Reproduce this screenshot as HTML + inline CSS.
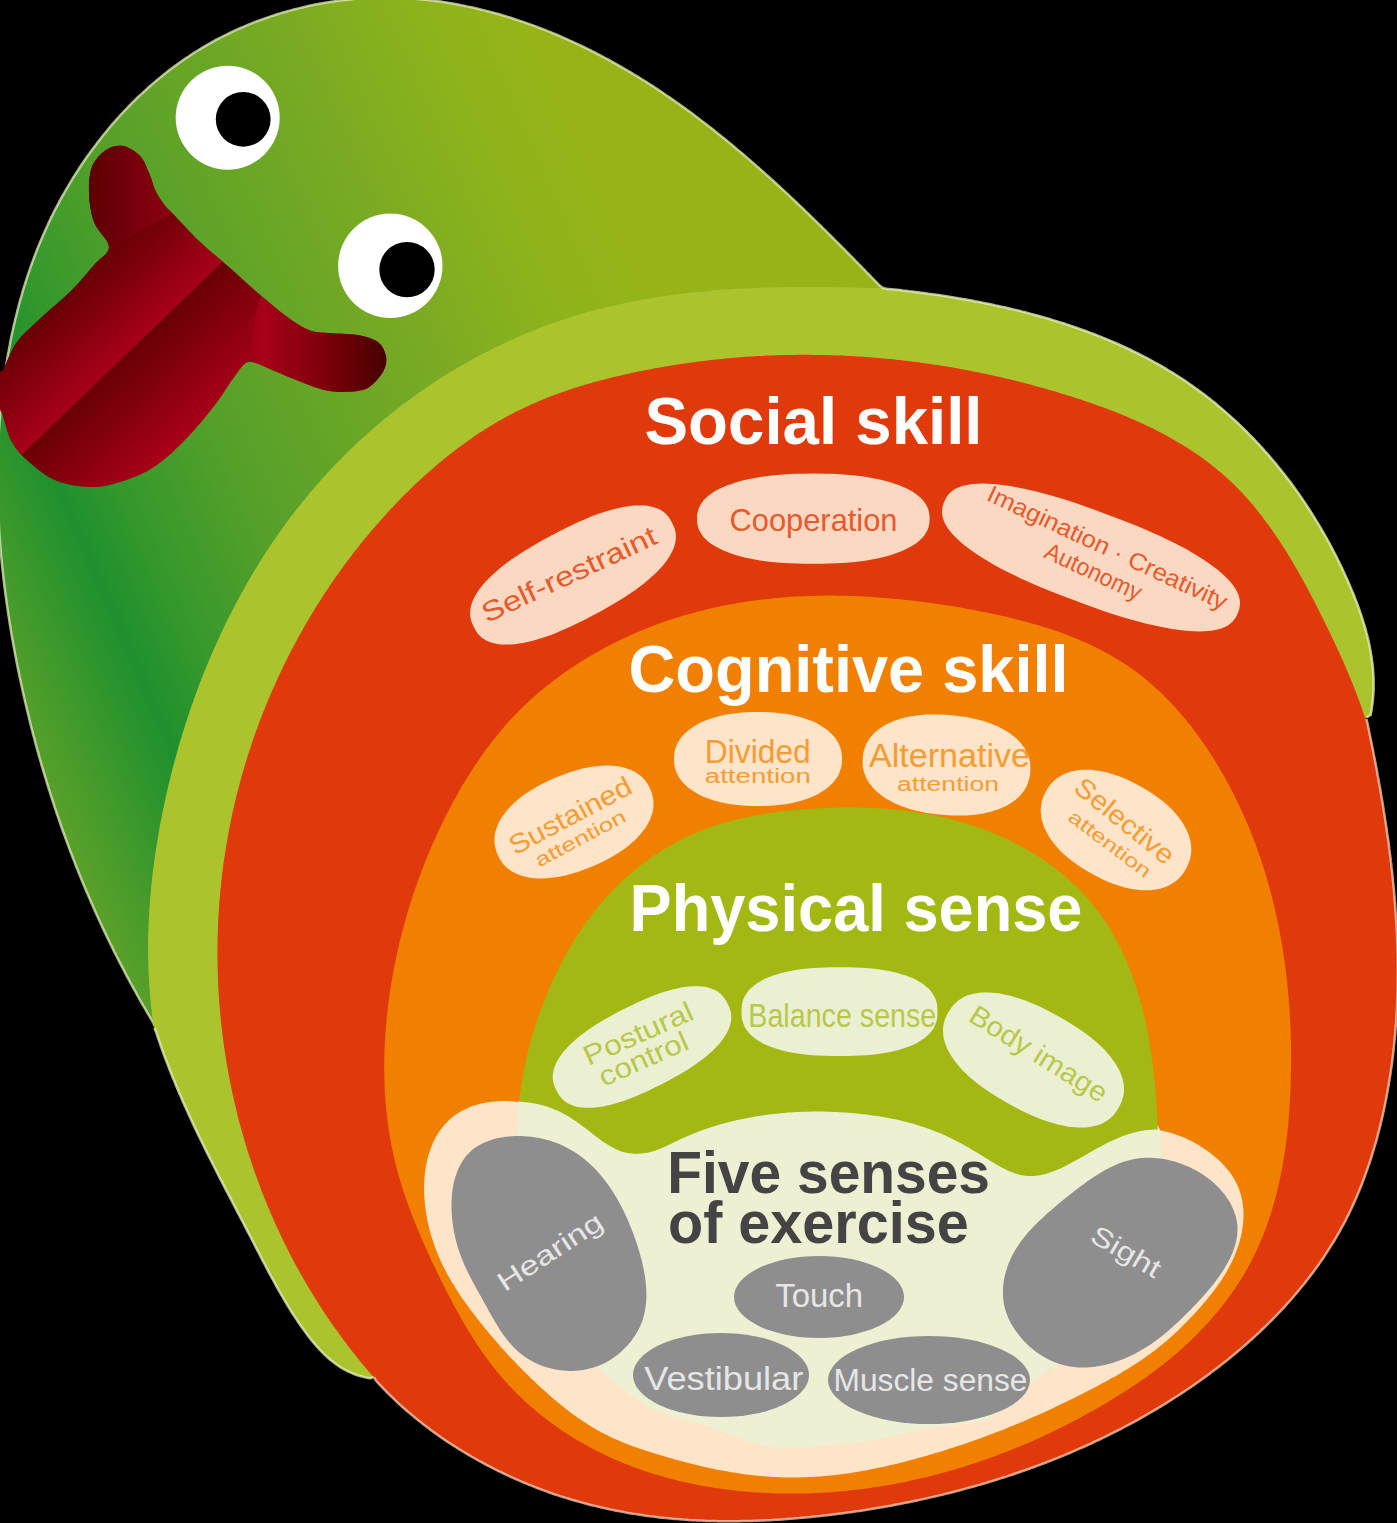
<!DOCTYPE html>
<html><head><meta charset="utf-8"><style>html,body{margin:0;padding:0;background:#000;overflow:hidden;width:1397px;height:1523px}svg{display:block}text{font-family:"Liberation Sans",sans-serif}</style></head>
<body><svg width="1397" height="1523" viewBox="0 0 1397 1523" font-family="Liberation Sans, sans-serif"><defs>
<linearGradient id="gbody" gradientUnits="userSpaceOnUse" x1="-247.6" y1="107.2" x2="431" y2="-186.6">
<stop offset="0" stop-color="#58a02a"/><stop offset="0.0946" stop-color="#3a982c"/><stop offset="0.1757" stop-color="#1f902e"/><stop offset="0.2568" stop-color="#35982c"/><stop offset="0.4054" stop-color="#55a02a"/><stop offset="0.5811" stop-color="#6aa626"/><stop offset="0.7297" stop-color="#7dab22"/><stop offset="0.8784" stop-color="#8db31c"/><stop offset="1" stop-color="#96b418"/>
</linearGradient>
<linearGradient id="gt1" gradientUnits="userSpaceOnUse" x1="-35" y1="392.9" x2="23" y2="453.5">
<stop offset="0" stop-color="#6a0006"/><stop offset="0.95" stop-color="#a50019"/><stop offset="1" stop-color="#a50019"/>
</linearGradient>
<linearGradient id="gt2" gradientUnits="userSpaceOnUse" x1="23" y1="453.5" x2="92" y2="525.7">
<stop offset="0" stop-color="#680004"/><stop offset="1" stop-color="#a80019"/>
</linearGradient>
<linearGradient id="gt3" gradientUnits="userSpaceOnUse" x1="250" y1="0" x2="385" y2="0">
<stop offset="0" stop-color="#9c0015"/><stop offset="0.09" stop-color="#a8001a"/><stop offset="0.52" stop-color="#80000c"/><stop offset="1" stop-color="#480000"/>
</linearGradient>
<linearGradient id="gt4" gradientUnits="userSpaceOnUse" x1="90" y1="0" x2="172" y2="0">
<stop offset="0" stop-color="#5c0004"/><stop offset="1" stop-color="#8e0012"/>
</linearGradient>
<clipPath id="ctongue"><path d="M109.0,247.0 C109.0,239.8 97.3,231.0 94.0,222.0 C90.7,213.0 89.3,202.2 89.0,193.0 C88.7,183.8 89.2,174.2 92.0,167.0 C94.8,159.8 100.8,153.5 106.0,150.0 C111.2,146.5 117.3,145.0 123.0,146.0 C128.7,147.0 135.7,151.5 140.0,156.0 C144.3,160.5 146.3,167.0 149.0,173.0 C151.7,179.0 153.2,186.3 156.0,192.0 C158.8,197.7 163.3,203.5 166.0,207.0 C168.7,210.5 166.3,207.2 172.0,213.0 C177.7,218.8 190.5,233.0 200.0,242.0 C209.5,251.0 219.3,258.5 229.0,267.0 C238.7,275.5 248.5,284.8 258.0,293.0 C267.5,301.2 277.5,309.8 286.0,316.0 C294.5,322.2 301.8,327.2 309.0,330.0 C316.2,332.8 320.8,332.2 329.0,333.0 C337.2,333.8 349.8,333.5 358.0,335.0 C366.2,336.5 373.3,338.5 378.0,342.0 C382.7,345.5 385.0,351.3 386.0,356.0 C387.0,360.7 386.3,365.2 384.0,370.0 C381.7,374.8 376.3,381.5 372.0,385.0 C367.7,388.5 365.2,390.0 358.0,391.0 C350.8,392.0 338.5,392.5 329.0,391.0 C319.5,389.5 310.5,385.5 301.0,382.0 C291.5,378.5 280.7,373.3 272.0,370.0 C263.3,366.7 255.2,361.0 249.0,362.0 C242.8,363.0 240.7,368.8 235.0,376.0 C229.3,383.2 223.2,394.5 215.0,405.0 C206.8,415.5 195.7,429.0 186.0,439.0 C176.3,449.0 166.5,458.3 157.0,465.0 C147.5,471.7 139.3,475.3 129.0,479.0 C118.7,482.7 107.0,486.7 95.0,487.0 C83.0,487.3 68.0,485.2 57.0,481.0 C46.0,476.8 36.5,468.5 29.0,462.0 C21.5,455.5 16.3,449.7 12.0,442.0 C7.7,434.3 5.3,422.7 3.0,416.0 C0.7,409.3 -1.2,409.3 -2.0,402.0 C-2.8,394.7 -2.8,377.3 -2.0,372.0 C-1.2,366.7 -0.2,375.0 3.0,370.0 C6.2,365.0 10.3,351.0 17.0,342.0 C23.7,333.0 33.8,324.7 43.0,316.0 C52.2,307.3 63.5,298.5 72.0,290.0 C80.5,281.5 87.8,272.2 94.0,265.0 C100.2,257.8 109.0,254.2 109.0,247.0Z"/></clipPath>
</defs>
<rect width="1397" height="1523" fill="#000"/>
<path d="M882.0,287.5L879.4,285.3L877.3,283.2L875.3,281.1L873.2,279.0L871.2,276.9L869.1,274.7L867.0,272.6L865.0,270.5L862.9,268.4L860.8,266.2L858.7,264.1L856.6,262.0L854.6,259.9L852.5,257.7L850.4,255.6L848.3,253.5L846.2,251.4L844.1,249.2L842.0,247.1L839.9,245.0L837.8,242.9L835.7,240.8L833.6,238.7L831.4,236.5L829.3,234.4L827.2,232.3L825.1,230.2L822.9,228.1L820.8,226.0L818.6,223.9L816.5,221.8L814.3,219.7L812.2,217.6L810.0,215.5L807.9,213.4L805.7,211.3L803.6,209.2L801.4,207.2L799.2,205.1L797.0,203.0L794.8,200.9L792.7,198.9L790.5,196.8L788.3,194.7L786.1,192.7L783.9,190.6L781.6,188.6L779.4,186.5L777.2,184.5L775.0,182.5L772.8,180.4L770.5,178.4L768.3,176.4L766.0,174.4L763.8,172.4L761.5,170.3L759.3,168.3L757.0,166.4L754.8,164.4L752.5,162.4L750.2,160.4L747.9,158.4L745.6,156.5L743.3,154.5L741.0,152.5L738.7,150.6L736.4,148.7L734.1,146.7L731.8,144.8L729.5,142.9L727.1,141.0L724.8,139.0L722.5,137.1L720.1,135.2L717.8,133.4L715.4,131.5L713.0,129.6L710.7,127.7L708.3,125.9L705.9,124.0L703.5,122.2L701.1,120.4L698.7,118.6L696.3,116.7L693.9,114.9L691.5,113.1L689.1,111.3L686.6,109.6L684.2,107.8L681.7,106.0L679.3,104.3L676.8,102.5L674.4,100.8L671.9,99.1L669.4,97.4L666.9,95.7L664.4,94.0L662.0,92.3L659.4,90.6L656.9,88.9L654.4,87.3L651.9,85.6L649.4,84.0L646.8,82.4L644.3,80.8L641.7,79.2L639.2,77.6L636.6,76.0L634.0,74.5L631.4,72.9L628.8,71.4L626.2,69.8L623.6,68.3L621.0,66.8L618.4,65.3L615.8,63.8L613.1,62.3L610.5,60.9L607.9,59.4L605.2,58.0L602.5,56.6L599.9,55.2L597.2,53.8L594.5,52.4L591.8,51.0L589.1,49.7L586.4,48.3L583.6,47.0L580.9,45.7L578.2,44.4L575.4,43.1L572.7,41.8L569.9,40.6L567.2,39.3L564.4,38.1L561.6,36.9L558.9,35.7L556.1,34.5L553.3,33.3L550.5,32.2L547.7,31.1L544.9,29.9L542.0,28.8L539.2,27.8L536.4,26.7L533.5,25.6L530.7,24.6L527.9,23.6L525.0,22.6L522.1,21.6L519.3,20.6L516.4,19.7L513.5,18.7L510.7,17.8L507.8,16.9L504.9,16.0L502.0,15.2L499.1,14.3L496.2,13.5L493.3,12.7L490.4,11.9L487.5,11.2L484.6,10.4L481.6,9.7L478.7,9.0L475.8,8.3L472.9,7.6L469.9,7.0L467.0,6.4L464.0,5.7L461.1,5.2L458.1,4.6L455.2,4.0L452.2,3.5L449.3,3.0L446.3,2.5L443.4,2.1L440.4,1.6L437.4,1.2L434.5,0.8L431.5,0.5L428.5,0.1L425.5,-0.2L422.5,-0.5L419.6,-0.8L416.6,-1.1L413.6,-1.3L410.6,-1.5L407.6,-1.7L404.6,-1.9L401.7,-2.0L398.7,-2.1L395.7,-2.2L392.7,-2.3L389.7,-2.3L386.7,-2.3L383.7,-2.3L380.7,-2.3L377.7,-2.3L374.7,-2.2L371.7,-2.1L368.7,-1.9L365.7,-1.8L362.7,-1.6L359.7,-1.4L356.7,-1.2L353.7,-0.9L350.8,-0.6L347.8,-0.3L344.8,-0.0L341.8,0.3L338.8,0.7L335.8,1.1L332.9,1.6L329.9,2.0L326.9,2.5L324.0,3.0L321.0,3.5L318.0,4.1L315.1,4.6L312.1,5.2L309.2,5.8L306.3,6.5L303.3,7.2L300.4,7.9L297.5,8.6L294.6,9.3L291.7,10.1L288.8,10.9L285.9,11.7L283.0,12.5L280.1,13.4L277.2,14.3L274.4,15.2L271.5,16.1L268.7,17.1L265.8,18.1L263.0,19.1L260.2,20.1L257.4,21.1L254.5,22.2L251.8,23.3L249.0,24.4L246.2,25.6L243.4,26.8L240.7,28.0L237.9,29.2L235.2,30.4L232.5,31.7L229.8,33.0L227.1,34.3L224.4,35.6L221.7,37.0L219.1,38.3L216.4,39.7L213.8,41.2L211.2,42.6L208.6,44.1L206.0,45.6L203.4,47.1L200.9,48.6L198.3,50.2L195.8,51.8L193.3,53.4L190.7,55.0L188.3,56.7L185.8,58.3L183.3,60.0L180.9,61.7L178.4,63.5L176.0,65.2L173.6,67.0L171.2,68.8L168.8,70.6L166.5,72.4L164.1,74.3L161.8,76.2L159.5,78.1L157.2,80.0L154.9,81.9L152.6,83.9L150.4,85.8L148.1,87.8L145.9,89.8L143.7,91.8L141.5,93.9L139.3,95.9L137.1,98.0L135.0,100.1L132.9,102.2L130.7,104.4L128.6,106.5L126.6,108.7L124.5,110.8L122.4,113.0L120.4,115.2L118.4,117.5L116.4,119.7L114.4,122.0L112.4,124.2L110.4,126.5L108.5,128.8L106.6,131.2L104.7,133.5L102.8,135.8L100.9,138.2L99.1,140.6L97.2,143.0L95.4,145.4L93.6,147.8L91.8,150.2L90.0,152.6L88.3,155.1L86.5,157.6L84.8,160.0L83.1,162.5L81.4,165.0L79.7,167.5L78.1,170.1L76.4,172.6L74.8,175.2L73.2,177.7L71.6,180.3L70.1,182.9L68.5,185.5L67.0,188.1L65.5,190.7L64.0,193.3L62.5,195.9L61.0,198.6L59.6,201.2L58.2,203.9L56.8,206.6L55.4,209.2L54.0,211.9L52.7,214.6L51.3,217.3L50.0,220.1L48.7,222.8L47.5,225.5L46.2,228.2L45.0,231.0L43.8,233.7L42.6,236.5L41.4,239.3L40.2,242.0L39.1,244.8L37.9,247.6L36.8,250.4L35.7,253.2L34.7,256.0L33.6,258.8L32.6,261.6L31.5,264.5L30.5,267.3L29.6,270.1L28.6,273.0L27.6,275.8L26.7,278.7L25.8,281.5L24.9,284.4L24.0,287.2L23.1,290.1L22.3,293.0L21.5,295.9L20.6,298.8L19.8,301.6L19.0,304.5L18.3,307.4L17.5,310.3L16.8,313.3L16.1,316.2L15.3,319.1L14.7,322.0L14.0,324.9L13.3,327.8L12.7,330.8L12.0,333.7L11.4,336.6L10.8,339.6L10.2,342.5L9.7,345.5L9.1,348.4L8.6,351.3L8.0,354.3L7.5,357.2L7.0,360.2L6.5,363.2L6.0,366.1L5.6,369.1L5.1,372.0L4.7,375.0L4.3,378.0L3.9,380.9L3.5,383.9L3.1,386.9L2.7,389.8L2.4,392.8L2.0,395.8L1.7,398.8L1.4,401.7L1.1,404.7L0.8,407.7L0.5,410.7L0.3,413.7L0.0,416.6L-0.2,419.6L-0.5,422.6L-0.7,425.6L-0.9,428.6L-1.1,431.6L-1.2,434.6L-1.4,437.6L-1.6,440.5L-1.7,443.5L-1.8,446.5L-1.9,449.5L-2.0,452.5L-2.1,455.5L-2.2,458.5L-2.3,461.5L-2.3,464.5L-2.4,467.5L-2.4,470.5L-2.4,473.5L-2.5,476.5L-2.5,479.5L-2.4,482.5L-2.4,485.5L-2.4,488.5L-2.3,491.5L-2.3,494.5L-2.2,497.5L-2.1,500.5L-2.1,503.5L-2.0,506.5L-1.8,509.5L-1.7,512.5L-1.6,515.5L-1.4,518.5L-1.3,521.5L-1.1,524.5L-1.0,527.5L-0.8,530.5L-0.6,533.5L-0.4,536.5L-0.2,539.5L0.1,542.5L0.3,545.5L0.6,548.5L0.8,551.5L1.1,554.5L1.3,557.5L1.6,560.5L1.9,563.5L2.2,566.5L2.5,569.5L2.9,572.5L3.2,575.5L3.5,578.5L3.9,581.5L4.2,584.5L4.6,587.5L5.0,590.5L5.4,593.5L5.8,596.5L6.2,599.5L6.6,602.5L7.0,605.4L7.5,608.4L7.9,611.4L8.3,614.4L8.8,617.4L9.3,620.4L9.7,623.3L10.2,626.3L10.7,629.3L11.2,632.3L11.7,635.2L12.2,638.2L12.8,641.2L13.3,644.2L13.8,647.1L14.4,650.1L14.9,653.1L15.5,656.0L16.1,659.0L16.6,662.0L17.2,664.9L17.8,667.9L18.4,670.8L19.0,673.8L19.6,676.7L20.3,679.7L20.9,682.6L21.5,685.6L22.2,688.5L22.8,691.5L23.5,694.4L24.1,697.3L24.8,700.3L25.5,703.2L26.2,706.1L26.9,709.1L27.6,712.0L28.3,714.9L29.0,717.8L29.7,720.8L30.4,723.7L31.2,726.6L31.9,729.5L32.7,732.4L33.4,735.3L34.2,738.2L35.0,741.1L35.7,744.0L36.5,746.9L37.3,749.8L38.1,752.7L38.9,755.6L39.7,758.5L40.6,761.4L41.4,764.3L42.2,767.2L43.1,770.0L43.9,772.9L44.8,775.8L45.7,778.7L46.5,781.5L47.4,784.4L48.3,787.3L49.2,790.1L50.1,793.0L51.0,795.9L51.9,798.7L52.9,801.6L53.8,804.4L54.7,807.3L55.7,810.1L56.6,813.0L57.6,815.8L58.6,818.7L59.6,821.5L60.5,824.3L61.5,827.2L62.5,830.0L63.5,832.8L64.6,835.6L65.6,838.4L66.6,841.3L67.7,844.1L68.7,846.9L69.8,849.7L70.8,852.5L71.9,855.3L73.0,858.1L74.1,860.9L75.1,863.7L76.2,866.5L77.4,869.3L78.5,872.1L79.6,874.9L80.7,877.6L81.9,880.4L83.0,883.2L84.2,886.0L85.3,888.7L86.5,891.5L87.7,894.3L88.9,897.0L90.1,899.8L91.3,902.5L92.5,905.3L93.7,908.0L94.9,910.8L96.1,913.5L97.4,916.3L98.6,919.0L99.9,921.7L101.2,924.5L102.4,927.2L103.7,929.9L105.0,932.6L106.3,935.4L107.6,938.1L108.9,940.8L110.2,943.5L111.6,946.2L112.9,948.9L114.2,951.6L115.6,954.3L116.9,957.0L118.3,959.7L119.7,962.4L121.1,965.1L122.5,967.7L123.9,970.4L125.3,973.1L126.7,975.8L128.1,978.4L129.6,981.1L131.0,983.8L132.5,986.4L133.9,989.1L135.4,991.7L136.9,994.4L138.3,997.0L139.8,999.6L141.3,1002.3L142.8,1004.9L144.3,1007.5L145.9,1010.2L147.4,1012.8L148.9,1015.4L150.5,1018.0L152.1,1020.6L153.6,1023.3L154.3,1026.0L154.3,1026.0L168.0,960.0L185.0,850.0L220.0,700.0L310.0,550.0L470.0,400.0L650.0,335.0L850.0,322.0L882.0,287.5Z" fill="url(#gbody)"/>
<path d="M882.0,287.5L879.4,285.3L877.3,283.2L875.3,281.1L873.2,279.0L871.2,276.9L869.1,274.7L867.0,272.6L865.0,270.5L862.9,268.4L860.8,266.2L858.7,264.1L856.6,262.0L854.6,259.9L852.5,257.7L850.4,255.6L848.3,253.5L846.2,251.4L844.1,249.2L842.0,247.1L839.9,245.0L837.8,242.9L835.7,240.8L833.6,238.7L831.4,236.5L829.3,234.4L827.2,232.3L825.1,230.2L822.9,228.1L820.8,226.0L818.6,223.9L816.5,221.8L814.3,219.7L812.2,217.6L810.0,215.5L807.9,213.4L805.7,211.3L803.6,209.2L801.4,207.2L799.2,205.1L797.0,203.0L794.8,200.9L792.7,198.9L790.5,196.8L788.3,194.7L786.1,192.7L783.9,190.6L781.6,188.6L779.4,186.5L777.2,184.5L775.0,182.5L772.8,180.4L770.5,178.4L768.3,176.4L766.0,174.4L763.8,172.4L761.5,170.3L759.3,168.3L757.0,166.4L754.8,164.4L752.5,162.4L750.2,160.4L747.9,158.4L745.6,156.5L743.3,154.5L741.0,152.5L738.7,150.6L736.4,148.7L734.1,146.7L731.8,144.8L729.5,142.9L727.1,141.0L724.8,139.0L722.5,137.1L720.1,135.2L717.8,133.4L715.4,131.5L713.0,129.6L710.7,127.7L708.3,125.9L705.9,124.0L703.5,122.2L701.1,120.4L698.7,118.6L696.3,116.7L693.9,114.9L691.5,113.1L689.1,111.3L686.6,109.6L684.2,107.8L681.7,106.0L679.3,104.3L676.8,102.5L674.4,100.8L671.9,99.1L669.4,97.4L666.9,95.7L664.4,94.0L662.0,92.3L659.4,90.6L656.9,88.9L654.4,87.3L651.9,85.6L649.4,84.0L646.8,82.4L644.3,80.8L641.7,79.2L639.2,77.6L636.6,76.0L634.0,74.5L631.4,72.9L628.8,71.4L626.2,69.8L623.6,68.3L621.0,66.8L618.4,65.3L615.8,63.8L613.1,62.3L610.5,60.9L607.9,59.4L605.2,58.0L602.5,56.6L599.9,55.2L597.2,53.8L594.5,52.4L591.8,51.0L589.1,49.7L586.4,48.3L583.6,47.0L580.9,45.7L578.2,44.4L575.4,43.1L572.7,41.8L569.9,40.6L567.2,39.3L564.4,38.1L561.6,36.9L558.9,35.7L556.1,34.5L553.3,33.3L550.5,32.2L547.7,31.1L544.9,29.9L542.0,28.8L539.2,27.8L536.4,26.7L533.5,25.6L530.7,24.6L527.9,23.6L525.0,22.6L522.1,21.6L519.3,20.6L516.4,19.7L513.5,18.7L510.7,17.8L507.8,16.9L504.9,16.0L502.0,15.2L499.1,14.3L496.2,13.5L493.3,12.7L490.4,11.9L487.5,11.2L484.6,10.4L481.6,9.7L478.7,9.0L475.8,8.3L472.9,7.6L469.9,7.0L467.0,6.4L464.0,5.7L461.1,5.2L458.1,4.6L455.2,4.0L452.2,3.5L449.3,3.0L446.3,2.5L443.4,2.1L440.4,1.6L437.4,1.2L434.5,0.8L431.5,0.5L428.5,0.1L425.5,-0.2L422.5,-0.5L419.6,-0.8L416.6,-1.1L413.6,-1.3L410.6,-1.5L407.6,-1.7L404.6,-1.9L401.7,-2.0L398.7,-2.1L395.7,-2.2L392.7,-2.3L389.7,-2.3L386.7,-2.3L383.7,-2.3L380.7,-2.3L377.7,-2.3L374.7,-2.2L371.7,-2.1L368.7,-1.9L365.7,-1.8L362.7,-1.6L359.7,-1.4L356.7,-1.2L353.7,-0.9L350.8,-0.6L347.8,-0.3L344.8,-0.0L341.8,0.3L338.8,0.7L335.8,1.1L332.9,1.6L329.9,2.0L326.9,2.5L324.0,3.0L321.0,3.5L318.0,4.1L315.1,4.6L312.1,5.2L309.2,5.8L306.3,6.5L303.3,7.2L300.4,7.9L297.5,8.6L294.6,9.3L291.7,10.1L288.8,10.9L285.9,11.7L283.0,12.5L280.1,13.4L277.2,14.3L274.4,15.2L271.5,16.1L268.7,17.1L265.8,18.1L263.0,19.1L260.2,20.1L257.4,21.1L254.5,22.2L251.8,23.3L249.0,24.4L246.2,25.6L243.4,26.8L240.7,28.0L237.9,29.2L235.2,30.4L232.5,31.7L229.8,33.0L227.1,34.3L224.4,35.6L221.7,37.0L219.1,38.3L216.4,39.7L213.8,41.2L211.2,42.6L208.6,44.1L206.0,45.6L203.4,47.1L200.9,48.6L198.3,50.2L195.8,51.8L193.3,53.4L190.7,55.0L188.3,56.7L185.8,58.3L183.3,60.0L180.9,61.7L178.4,63.5L176.0,65.2L173.6,67.0L171.2,68.8L168.8,70.6L166.5,72.4L164.1,74.3L161.8,76.2L159.5,78.1L157.2,80.0L154.9,81.9L152.6,83.9L150.4,85.8L148.1,87.8L145.9,89.8L143.7,91.8L141.5,93.9L139.3,95.9L137.1,98.0L135.0,100.1L132.9,102.2L130.7,104.4L128.6,106.5L126.6,108.7L124.5,110.8L122.4,113.0L120.4,115.2L118.4,117.5L116.4,119.7L114.4,122.0L112.4,124.2L110.4,126.5L108.5,128.8L106.6,131.2L104.7,133.5L102.8,135.8L100.9,138.2L99.1,140.6L97.2,143.0L95.4,145.4L93.6,147.8L91.8,150.2L90.0,152.6L88.3,155.1L86.5,157.6L84.8,160.0L83.1,162.5L81.4,165.0L79.7,167.5L78.1,170.1L76.4,172.6L74.8,175.2L73.2,177.7L71.6,180.3L70.1,182.9L68.5,185.5L67.0,188.1L65.5,190.7L64.0,193.3L62.5,195.9L61.0,198.6L59.6,201.2L58.2,203.9L56.8,206.6L55.4,209.2L54.0,211.9L52.7,214.6L51.3,217.3L50.0,220.1L48.7,222.8L47.5,225.5L46.2,228.2L45.0,231.0L43.8,233.7L42.6,236.5L41.4,239.3L40.2,242.0L39.1,244.8L37.9,247.6L36.8,250.4L35.7,253.2L34.7,256.0L33.6,258.8L32.6,261.6L31.5,264.5L30.5,267.3L29.6,270.1L28.6,273.0L27.6,275.8L26.7,278.7L25.8,281.5L24.9,284.4L24.0,287.2L23.1,290.1L22.3,293.0L21.5,295.9L20.6,298.8L19.8,301.6L19.0,304.5L18.3,307.4L17.5,310.3L16.8,313.3L16.1,316.2L15.3,319.1L14.7,322.0L14.0,324.9L13.3,327.8L12.7,330.8L12.0,333.7L11.4,336.6L10.8,339.6L10.2,342.5L9.7,345.5L9.1,348.4L8.6,351.3L8.0,354.3L7.5,357.2L7.0,360.2L6.5,363.2L6.0,366.1L5.6,369.1L5.1,372.0L4.7,375.0L4.3,378.0L3.9,380.9L3.5,383.9L3.1,386.9L2.7,389.8L2.4,392.8L2.0,395.8L1.7,398.8L1.4,401.7L1.1,404.7L0.8,407.7L0.5,410.7L0.3,413.7L0.0,416.6L-0.2,419.6L-0.5,422.6L-0.7,425.6L-0.9,428.6L-1.1,431.6L-1.2,434.6L-1.4,437.6L-1.6,440.5L-1.7,443.5L-1.8,446.5L-1.9,449.5L-2.0,452.5L-2.1,455.5L-2.2,458.5L-2.3,461.5L-2.3,464.5L-2.4,467.5L-2.4,470.5L-2.4,473.5L-2.5,476.5L-2.5,479.5L-2.4,482.5L-2.4,485.5L-2.4,488.5L-2.3,491.5L-2.3,494.5L-2.2,497.5L-2.1,500.5L-2.1,503.5L-2.0,506.5L-1.8,509.5L-1.7,512.5L-1.6,515.5L-1.4,518.5L-1.3,521.5L-1.1,524.5L-1.0,527.5L-0.8,530.5L-0.6,533.5L-0.4,536.5L-0.2,539.5L0.1,542.5L0.3,545.5L0.6,548.5L0.8,551.5L1.1,554.5L1.3,557.5L1.6,560.5L1.9,563.5L2.2,566.5L2.5,569.5L2.9,572.5L3.2,575.5L3.5,578.5L3.9,581.5L4.2,584.5L4.6,587.5L5.0,590.5L5.4,593.5L5.8,596.5L6.2,599.5L6.6,602.5L7.0,605.4L7.5,608.4L7.9,611.4L8.3,614.4L8.8,617.4L9.3,620.4L9.7,623.3L10.2,626.3L10.7,629.3L11.2,632.3L11.7,635.2L12.2,638.2L12.8,641.2L13.3,644.2L13.8,647.1L14.4,650.1L14.9,653.1L15.5,656.0L16.1,659.0L16.6,662.0L17.2,664.9L17.8,667.9L18.4,670.8L19.0,673.8L19.6,676.7L20.3,679.7L20.9,682.6L21.5,685.6L22.2,688.5L22.8,691.5L23.5,694.4L24.1,697.3L24.8,700.3L25.5,703.2L26.2,706.1L26.9,709.1L27.6,712.0L28.3,714.9L29.0,717.8L29.7,720.8L30.4,723.7L31.2,726.6L31.9,729.5L32.7,732.4L33.4,735.3L34.2,738.2L35.0,741.1L35.7,744.0L36.5,746.9L37.3,749.8L38.1,752.7L38.9,755.6L39.7,758.5L40.6,761.4L41.4,764.3L42.2,767.2L43.1,770.0L43.9,772.9L44.8,775.8L45.7,778.7L46.5,781.5L47.4,784.4L48.3,787.3L49.2,790.1L50.1,793.0L51.0,795.9L51.9,798.7L52.9,801.6L53.8,804.4L54.7,807.3L55.7,810.1L56.6,813.0L57.6,815.8L58.6,818.7L59.6,821.5L60.5,824.3L61.5,827.2L62.5,830.0L63.5,832.8L64.6,835.6L65.6,838.4L66.6,841.3L67.7,844.1L68.7,846.9L69.8,849.7L70.8,852.5L71.9,855.3L73.0,858.1L74.1,860.9L75.1,863.7L76.2,866.5L77.4,869.3L78.5,872.1L79.6,874.9L80.7,877.6L81.9,880.4L83.0,883.2L84.2,886.0L85.3,888.7L86.5,891.5L87.7,894.3L88.9,897.0L90.1,899.8L91.3,902.5L92.5,905.3L93.7,908.0L94.9,910.8L96.1,913.5L97.4,916.3L98.6,919.0L99.9,921.7L101.2,924.5L102.4,927.2L103.7,929.9L105.0,932.6L106.3,935.4L107.6,938.1L108.9,940.8L110.2,943.5L111.6,946.2L112.9,948.9L114.2,951.6L115.6,954.3L116.9,957.0L118.3,959.7L119.7,962.4L121.1,965.1L122.5,967.7L123.9,970.4L125.3,973.1L126.7,975.8L128.1,978.4L129.6,981.1L131.0,983.8L132.5,986.4L133.9,989.1L135.4,991.7L136.9,994.4L138.3,997.0L139.8,999.6L141.3,1002.3L142.8,1004.9L144.3,1007.5L145.9,1010.2L147.4,1012.8L148.9,1015.4L150.5,1018.0L152.1,1020.6L153.6,1023.3L154.3,1026.0" fill="none" stroke="#e4edbc" stroke-width="2.5" stroke-opacity="0.75" stroke-linejoin="round"/>
<g clip-path="url(#ctongue)">
<rect x="-10" y="100" width="420" height="420" fill="url(#gt2)"/>
<polygon points="23,453.5 -200,667 -400,200 300,-100 420,-150 260,226" fill="url(#gt1)"/>
<path d="M262.0,297.0 C267.3,294.7 278.2,310.5 286.0,316.0 C293.8,321.5 301.8,327.2 309.0,330.0 C316.2,332.8 320.8,332.2 329.0,333.0 C337.2,333.8 349.8,333.5 358.0,335.0 C366.2,336.5 373.3,338.5 378.0,342.0 C382.7,345.5 385.0,351.3 386.0,356.0 C387.0,360.7 386.3,365.2 384.0,370.0 C381.7,374.8 376.3,381.5 372.0,385.0 C367.7,388.5 365.2,390.0 358.0,391.0 C350.8,392.0 338.5,392.5 329.0,391.0 C319.5,389.5 310.5,385.5 301.0,382.0 C291.5,378.5 280.2,373.7 272.0,370.0 C263.8,366.3 255.0,366.7 252.0,360.0 C249.0,353.3 252.3,340.5 254.0,330.0 C255.7,319.5 256.7,299.3 262.0,297.0Z" fill="url(#gt3)"/>
<path d="M109.0,247.0 C101.3,245.5 97.3,231.0 94.0,222.0 C90.7,213.0 89.3,202.2 89.0,193.0 C88.7,183.8 89.2,174.2 92.0,167.0 C94.8,159.8 100.8,153.5 106.0,150.0 C111.2,146.5 117.3,145.0 123.0,146.0 C128.7,147.0 135.7,151.5 140.0,156.0 C144.3,160.5 146.3,167.0 149.0,173.0 C151.7,179.0 153.2,186.3 156.0,192.0 C158.8,197.7 163.3,203.5 166.0,207.0 C168.7,210.5 176.3,209.0 172.0,213.0 C167.7,217.0 150.5,225.3 140.0,231.0 C129.5,236.7 116.7,248.5 109.0,247.0Z" fill="url(#gt4)"/>
</g>
<circle cx="227.7" cy="117.7" r="52" fill="#fff"/><circle cx="243.2" cy="119.3" r="27.4" fill="#000"/>
<circle cx="390.3" cy="265.8" r="52.2" fill="#fff"/><circle cx="407" cy="269.6" r="27.7" fill="#000"/>
<path d="M882.0,287.5L885.2,288.6L888.1,288.9L891.1,289.2L894.0,289.5L897.0,289.8L900.0,290.1L902.9,290.5L905.9,290.8L908.9,291.2L911.8,291.5L914.8,291.9L917.8,292.3L920.8,292.7L923.8,293.1L926.7,293.5L929.7,293.9L932.7,294.3L935.7,294.7L938.7,295.1L941.7,295.6L944.7,296.0L947.7,296.5L950.6,297.0L953.6,297.5L956.6,298.0L959.6,298.5L962.6,299.0L965.6,299.5L968.6,300.1L971.6,300.6L974.6,301.2L977.6,301.7L980.6,302.3L983.6,302.9L986.5,303.5L989.5,304.1L992.5,304.7L995.5,305.4L998.5,306.0L1001.4,306.7L1004.4,307.3L1007.4,308.0L1010.4,308.7L1013.3,309.4L1016.3,310.1L1019.3,310.8L1022.2,311.6L1025.2,312.3L1028.1,313.1L1031.1,313.9L1034.0,314.7L1037.0,315.5L1039.9,316.3L1042.8,317.1L1045.8,318.0L1048.7,318.8L1051.6,319.7L1054.5,320.6L1057.4,321.5L1060.3,322.4L1063.2,323.3L1066.1,324.3L1069.0,325.2L1071.9,326.2L1074.8,327.2L1077.7,328.2L1080.5,329.2L1083.4,330.2L1086.2,331.2L1089.1,332.3L1091.9,333.4L1094.7,334.5L1097.6,335.6L1100.4,336.7L1103.2,337.8L1106.0,339.0L1108.8,340.1L1111.6,341.3L1114.3,342.5L1117.1,343.7L1119.9,345.0L1122.6,346.2L1125.4,347.5L1128.1,348.7L1130.8,350.0L1133.5,351.3L1136.2,352.7L1138.9,354.0L1141.6,355.4L1144.3,356.8L1147.0,358.2L1149.6,359.6L1152.3,361.0L1154.9,362.5L1157.5,363.9L1160.2,365.4L1162.8,366.9L1165.4,368.4L1167.9,370.0L1170.5,371.5L1173.1,373.1L1175.6,374.7L1178.1,376.3L1180.7,378.0L1183.2,379.6L1185.7,381.3L1188.2,383.0L1190.6,384.7L1193.1,386.4L1195.5,388.2L1198.0,389.9L1200.4,391.7L1202.8,393.5L1205.2,395.3L1207.6,397.2L1210.0,399.0L1212.3,400.9L1214.7,402.8L1217.0,404.7L1219.3,406.7L1221.6,408.6L1223.9,410.6L1226.2,412.6L1228.5,414.6L1230.7,416.6L1232.9,418.6L1235.2,420.7L1237.4,422.7L1239.6,424.8L1241.8,426.9L1243.9,429.0L1246.1,431.1L1248.2,433.3L1250.3,435.5L1252.5,437.6L1254.6,439.8L1256.6,442.0L1258.7,444.2L1260.8,446.5L1262.8,448.7L1264.8,451.0L1266.9,453.3L1268.9,455.6L1270.8,457.9L1272.8,460.2L1274.8,462.5L1276.7,464.9L1278.6,467.2L1280.5,469.6L1282.4,472.0L1284.3,474.4L1286.2,476.8L1288.1,479.2L1289.9,481.6L1291.7,484.1L1293.5,486.6L1295.3,489.0L1297.1,491.5L1298.9,494.0L1300.6,496.5L1302.3,499.0L1304.1,501.6L1305.8,504.1L1307.4,506.6L1309.1,509.2L1310.8,511.8L1312.4,514.4L1314.0,516.9L1315.6,519.6L1317.2,522.2L1318.8,524.8L1320.4,527.4L1321.9,530.1L1323.4,532.7L1325.0,535.4L1326.5,538.0L1327.9,540.7L1329.4,543.4L1330.9,546.1L1332.3,548.8L1333.7,551.5L1335.1,554.2L1336.5,556.9L1337.9,559.7L1339.2,562.4L1340.5,565.2L1341.9,567.9L1343.2,570.7L1344.4,573.4L1345.7,576.2L1347.0,579.0L1348.2,581.8L1349.4,584.6L1350.6,587.4L1351.8,590.2L1353.0,593.0L1354.1,595.8L1355.2,598.7L1356.3,601.5L1357.4,604.3L1358.4,607.2L1359.4,610.0L1360.4,612.9L1361.4,615.7L1362.3,618.6L1363.2,621.4L1364.1,624.3L1365.0,627.2L1365.8,630.1L1366.5,633.0L1367.3,635.9L1368.0,638.7L1368.7,641.6L1369.3,644.5L1369.9,647.4L1370.4,650.4L1370.9,653.3L1371.4,656.2L1371.8,659.1L1372.2,662.0L1372.6,665.0L1372.9,667.9L1373.1,670.8L1373.3,673.7L1373.5,676.7L1373.6,679.6L1373.6,682.6L1373.6,685.5L1373.6,688.4L1373.5,691.4L1373.3,694.3L1373.1,697.3L1372.8,700.2L1372.5,703.2L1372.1,706.2L1371.7,709.1L1371.2,712.1L1370.6,715.0L1366.4,717.5L1366.4,717.5L1340.0,760.0L1300.0,1000.0L1100.0,1300.0L700.0,1450.0L400.0,1392.0L374.0,1377.0L374.0,1377.0L370.3,1378.3L367.2,1377.8L364.1,1377.1L361.1,1376.3L358.2,1375.5L355.3,1374.5L352.5,1373.4L349.8,1372.2L347.2,1371.0L344.6,1369.6L342.0,1368.2L339.6,1366.6L337.2,1365.0L334.8,1363.3L332.5,1361.5L330.2,1359.7L328.0,1357.8L325.9,1355.8L323.8,1353.8L321.7,1351.7L319.7,1349.6L317.7,1347.4L315.7,1345.2L313.8,1342.9L311.9,1340.6L310.0,1338.3L308.2,1335.9L306.4,1333.5L304.6,1331.1L302.8,1328.6L301.1,1326.2L299.4,1323.7L297.6,1321.2L296.0,1318.6L294.3,1316.1L292.6,1313.5L291.0,1311.0L289.4,1308.4L287.8,1305.8L286.2,1303.1L284.6,1300.5L283.1,1297.8L281.5,1295.2L280.0,1292.5L278.5,1289.8L276.9,1287.1L275.5,1284.4L274.0,1281.7L272.5,1279.0L271.0,1276.3L269.5,1273.5L268.1,1270.8L266.6,1268.1L265.2,1265.3L263.8,1262.6L262.3,1259.8L260.9,1257.1L259.5,1254.3L258.1,1251.6L256.6,1248.8L255.2,1246.1L253.8,1243.3L252.4,1240.6L251.0,1237.8L249.6,1235.1L248.1,1232.4L246.7,1229.6L245.3,1226.9L243.9,1224.2L242.5,1221.5L241.1,1218.8L239.7,1216.1L238.2,1213.4L236.8,1210.6L235.4,1207.9L234.0,1205.2L232.6,1202.5L231.2,1199.8L229.8,1197.2L228.4,1194.5L227.0,1191.8L225.6,1189.1L224.2,1186.4L222.8,1183.7L221.4,1181.0L220.0,1178.3L218.6,1175.6L217.3,1172.9L215.9,1170.2L214.5,1167.5L213.2,1164.8L211.8,1162.2L210.4,1159.5L209.1,1156.8L207.7,1154.1L206.4,1151.4L205.0,1148.7L203.7,1146.0L202.4,1143.2L201.1,1140.5L199.7,1137.8L198.4,1135.1L197.1,1132.4L195.8,1129.7L194.5,1126.9L193.2,1124.2L192.0,1121.5L190.7,1118.7L189.4,1116.0L188.2,1113.2L186.9,1110.5L185.7,1107.7L184.4,1105.0L183.2,1102.2L182.0,1099.4L180.8,1096.6L179.6,1093.9L178.4,1091.1L177.2,1088.3L176.0,1085.5L174.9,1082.6L173.7,1079.8L172.5,1077.0L171.4,1074.2L170.3,1071.3L169.2,1068.5L168.1,1065.6L167.0,1062.7L165.9,1059.9L164.8,1057.0L163.7,1054.1L162.7,1051.2L161.6,1048.3L160.6,1045.3L159.6,1042.4L158.6,1039.5L157.6,1036.5L156.6,1033.6L155.6,1030.6L154.3,1028.1L154.3,1028.1L153.4,1024.9L153.0,1021.9L152.6,1018.9L152.2,1015.9L151.8,1012.9L151.5,1009.9L151.2,1006.9L150.8,1003.9L150.6,1000.9L150.3,998.0L150.0,995.0L149.8,992.0L149.6,989.0L149.3,986.0L149.1,983.0L149.0,980.0L148.8,977.0L148.7,974.0L148.5,971.1L148.4,968.1L148.3,965.1L148.3,962.1L148.2,959.1L148.1,956.1L148.1,953.1L148.1,950.2L148.1,947.2L148.1,944.2L148.1,941.2L148.2,938.2L148.2,935.2L148.3,932.2L148.4,929.3L148.5,926.3L148.6,923.3L148.8,920.3L148.9,917.3L149.1,914.3L149.2,911.4L149.4,908.4L149.6,905.4L149.9,902.4L150.1,899.4L150.3,896.5L150.6,893.5L150.9,890.5L151.1,887.5L151.4,884.5L151.8,881.6L152.1,878.6L152.4,875.6L152.8,872.6L153.1,869.7L153.5,866.7L153.9,863.7L154.3,860.7L154.7,857.8L155.1,854.8L155.6,851.8L156.0,848.9L156.5,845.9L157.0,842.9L157.5,840.0L158.0,837.0L158.5,834.0L159.0,831.1L159.5,828.1L160.1,825.1L160.6,822.2L161.2,819.2L161.8,816.2L162.4,813.3L163.0,810.3L163.6,807.4L164.2,804.4L164.8,801.5L165.5,798.5L166.1,795.5L166.8,792.6L167.5,789.6L168.1,786.7L168.8,783.7L169.6,780.8L170.3,777.9L171.0,774.9L171.7,772.0L172.5,769.0L173.3,766.1L174.0,763.2L174.8,760.2L175.6,757.3L176.4,754.4L177.2,751.5L178.1,748.5L178.9,745.6L179.8,742.7L180.6,739.8L181.5,736.9L182.4,734.0L183.3,731.1L184.2,728.2L185.1,725.3L186.0,722.4L187.0,719.5L187.9,716.6L188.9,713.7L189.9,710.8L190.8,708.0L191.8,705.1L192.9,702.2L193.9,699.3L194.9,696.5L195.9,693.6L197.0,690.8L198.1,687.9L199.1,685.1L200.2,682.2L201.3,679.4L202.4,676.6L203.5,673.8L204.7,670.9L205.8,668.1L207.0,665.3L208.1,662.5L209.3,659.7L210.5,656.9L211.7,654.1L212.9,651.3L214.1,648.5L215.4,645.8L216.6,643.0L217.9,640.2L219.1,637.5L220.4,634.7L221.7,632.0L223.0,629.2L224.3,626.5L225.6,623.8L227.0,621.0L228.3,618.3L229.7,615.6L231.0,612.9L232.4,610.2L233.8,607.5L235.2,604.8L236.6,602.2L238.1,599.5L239.5,596.8L240.9,594.2L242.4,591.5L243.9,588.9L245.4,586.3L246.9,583.6L248.4,581.0L249.9,578.4L251.4,575.8L253.0,573.2L254.5,570.6L256.1,568.0L257.7,565.4L259.2,562.9L260.8,560.3L262.5,557.8L264.1,555.2L265.7,552.7L267.4,550.2L269.0,547.7L270.7,545.1L272.4,542.6L274.1,540.2L275.8,537.7L277.5,535.2L279.2,532.7L281.0,530.3L282.7,527.8L284.5,525.4L286.3,523.0L288.0,520.5L289.8,518.1L291.7,515.7L293.5,513.3L295.3,511.0L297.2,508.6L299.0,506.2L300.9,503.9L302.8,501.5L304.7,499.2L306.6,496.9L308.5,494.6L310.4,492.3L312.4,490.0L314.3,487.7L316.3,485.4L318.3,483.2L320.2,480.9L322.2,478.7L324.3,476.5L326.3,474.2L328.3,472.0L330.4,469.8L332.4,467.6L334.5,465.5L336.6,463.3L338.7,461.2L340.8,459.0L342.9,456.9L345.0,454.8L347.1,452.7L349.3,450.6L351.4,448.5L353.6,446.4L355.8,444.3L358.0,442.3L360.2,440.2L362.4,438.2L364.6,436.2L366.8,434.2L369.1,432.2L371.3,430.2L373.6,428.2L375.8,426.3L378.1,424.3L380.4,422.4L382.7,420.5L385.0,418.6L387.3,416.7L389.7,414.8L392.0,412.9L394.3,411.1L396.7,409.2L399.1,407.4L401.4,405.6L403.8,403.7L406.2,401.9L408.6,400.2L411.0,398.4L413.5,396.6L415.9,394.9L418.3,393.1L420.8,391.4L423.3,389.7L425.7,388.0L428.2,386.3L430.7,384.7L433.2,383.0L435.7,381.4L438.2,379.7L440.7,378.1L443.2,376.5L445.8,374.9L448.3,373.3L450.9,371.8L453.4,370.2L456.0,368.7L458.6,367.2L461.2,365.7L463.8,364.2L466.4,362.7L469.0,361.2L471.6,359.8L474.2,358.3L476.9,356.9L479.5,355.5L482.2,354.1L484.8,352.7L487.5,351.4L490.2,350.0L492.8,348.7L495.5,347.3L498.2,346.0L500.9,344.7L503.6,343.4L506.3,342.2L509.1,340.9L511.8,339.7L514.5,338.5L517.3,337.3L520.0,336.1L522.8,334.9L525.5,333.7L528.3,332.6L531.1,331.4L533.9,330.3L536.7,329.2L539.5,328.1L542.3,327.1L545.1,326.0L547.9,325.0L550.7,324.0L553.5,322.9L556.4,321.9L559.2,321.0L562.1,320.0L564.9,319.1L567.8,318.1L570.6,317.2L573.5,316.3L576.4,315.4L579.3,314.6L582.1,313.7L585.0,312.9L587.9,312.1L590.8,311.3L593.7,310.5L596.7,309.7L599.6,308.9L602.5,308.2L605.4,307.5L608.4,306.8L611.3,306.1L614.2,305.4L617.2,304.7L620.1,304.1L623.1,303.5L626.1,302.8L629.0,302.2L632.0,301.6L635.0,301.1L637.9,300.5L640.9,300.0L643.9,299.4L646.9,298.9L649.9,298.4L652.9,297.9L655.9,297.4L658.8,296.9L661.8,296.5L664.9,296.0L667.9,295.6L670.9,295.2L673.9,294.8L676.9,294.4L679.9,294.0L682.9,293.6L685.9,293.3L689.0,292.9L692.0,292.6L695.0,292.3L698.0,292.0L701.1,291.7L704.1,291.4L707.1,291.1L710.2,290.8L713.2,290.6L716.2,290.3L719.3,290.1L722.3,289.8L725.3,289.6L728.4,289.4L731.4,289.2L734.5,289.0L737.5,288.8L740.5,288.7L743.6,288.5L746.6,288.4L749.7,288.2L752.7,288.1L755.7,288.0L758.8,287.8L761.8,287.7L764.8,287.6L767.9,287.5L770.9,287.4L773.9,287.4L777.0,287.3L780.0,287.2L783.0,287.2L786.1,287.1L789.1,287.1L792.1,287.0L795.1,287.0L798.2,287.0L801.2,287.0L804.2,287.0L807.2,287.0L810.2,287.0L813.2,287.0L816.3,287.0L819.3,287.0L822.3,287.0L825.3,287.0L828.3,287.1L831.3,287.1L834.3,287.2L837.2,287.2L840.2,287.3L843.2,287.3L846.2,287.4L849.2,287.5L852.1,287.5L855.1,287.6L858.1,287.7L861.0,287.8L864.0,287.9L866.9,287.9L869.9,288.0L872.8,288.1L875.8,288.2L878.7,288.3L882.0,287.5Z" fill="#abc42e"/>
<path d="M882.0,287.5L885.2,288.6L888.1,288.9L891.1,289.2L894.0,289.5L897.0,289.8L900.0,290.1L902.9,290.5L905.9,290.8L908.9,291.2L911.8,291.5L914.8,291.9L917.8,292.3L920.8,292.7L923.8,293.1L926.7,293.5L929.7,293.9L932.7,294.3L935.7,294.7L938.7,295.1L941.7,295.6L944.7,296.0L947.7,296.5L950.6,297.0L953.6,297.5L956.6,298.0L959.6,298.5L962.6,299.0L965.6,299.5L968.6,300.1L971.6,300.6L974.6,301.2L977.6,301.7L980.6,302.3L983.6,302.9L986.5,303.5L989.5,304.1L992.5,304.7L995.5,305.4L998.5,306.0L1001.4,306.7L1004.4,307.3L1007.4,308.0L1010.4,308.7L1013.3,309.4L1016.3,310.1L1019.3,310.8L1022.2,311.6L1025.2,312.3L1028.1,313.1L1031.1,313.9L1034.0,314.7L1037.0,315.5L1039.9,316.3L1042.8,317.1L1045.8,318.0L1048.7,318.8L1051.6,319.7L1054.5,320.6L1057.4,321.5L1060.3,322.4L1063.2,323.3L1066.1,324.3L1069.0,325.2L1071.9,326.2L1074.8,327.2L1077.7,328.2L1080.5,329.2L1083.4,330.2L1086.2,331.2L1089.1,332.3L1091.9,333.4L1094.7,334.5L1097.6,335.6L1100.4,336.7L1103.2,337.8L1106.0,339.0L1108.8,340.1L1111.6,341.3L1114.3,342.5L1117.1,343.7L1119.9,345.0L1122.6,346.2L1125.4,347.5L1128.1,348.7L1130.8,350.0L1133.5,351.3L1136.2,352.7L1138.9,354.0L1141.6,355.4L1144.3,356.8L1147.0,358.2L1149.6,359.6L1152.3,361.0L1154.9,362.5L1157.5,363.9L1160.2,365.4L1162.8,366.9L1165.4,368.4L1167.9,370.0L1170.5,371.5L1173.1,373.1L1175.6,374.7L1178.1,376.3L1180.7,378.0L1183.2,379.6L1185.7,381.3L1188.2,383.0L1190.6,384.7L1193.1,386.4L1195.5,388.2L1198.0,389.9L1200.4,391.7L1202.8,393.5L1205.2,395.3L1207.6,397.2L1210.0,399.0L1212.3,400.9L1214.7,402.8L1217.0,404.7L1219.3,406.7L1221.6,408.6L1223.9,410.6L1226.2,412.6L1228.5,414.6L1230.7,416.6L1232.9,418.6L1235.2,420.7L1237.4,422.7L1239.6,424.8L1241.8,426.9L1243.9,429.0L1246.1,431.1L1248.2,433.3L1250.3,435.5L1252.5,437.6L1254.6,439.8L1256.6,442.0L1258.7,444.2L1260.8,446.5L1262.8,448.7L1264.8,451.0L1266.9,453.3L1268.9,455.6L1270.8,457.9L1272.8,460.2L1274.8,462.5L1276.7,464.9L1278.6,467.2L1280.5,469.6L1282.4,472.0L1284.3,474.4L1286.2,476.8L1288.1,479.2L1289.9,481.6L1291.7,484.1L1293.5,486.6L1295.3,489.0L1297.1,491.5L1298.9,494.0L1300.6,496.5L1302.3,499.0L1304.1,501.6L1305.8,504.1L1307.4,506.6L1309.1,509.2L1310.8,511.8L1312.4,514.4L1314.0,516.9L1315.6,519.6L1317.2,522.2L1318.8,524.8L1320.4,527.4L1321.9,530.1L1323.4,532.7L1325.0,535.4L1326.5,538.0L1327.9,540.7L1329.4,543.4L1330.9,546.1L1332.3,548.8L1333.7,551.5L1335.1,554.2L1336.5,556.9L1337.9,559.7L1339.2,562.4L1340.5,565.2L1341.9,567.9L1343.2,570.7L1344.4,573.4L1345.7,576.2L1347.0,579.0L1348.2,581.8L1349.4,584.6L1350.6,587.4L1351.8,590.2L1353.0,593.0L1354.1,595.8L1355.2,598.7L1356.3,601.5L1357.4,604.3L1358.4,607.2L1359.4,610.0L1360.4,612.9L1361.4,615.7L1362.3,618.6L1363.2,621.4L1364.1,624.3L1365.0,627.2L1365.8,630.1L1366.5,633.0L1367.3,635.9L1368.0,638.7L1368.7,641.6L1369.3,644.5L1369.9,647.4L1370.4,650.4L1370.9,653.3L1371.4,656.2L1371.8,659.1L1372.2,662.0L1372.6,665.0L1372.9,667.9L1373.1,670.8L1373.3,673.7L1373.5,676.7L1373.6,679.6L1373.6,682.6L1373.6,685.5L1373.6,688.4L1373.5,691.4L1373.3,694.3L1373.1,697.3L1372.8,700.2L1372.5,703.2L1372.1,706.2L1371.7,709.1L1371.2,712.1L1370.6,715.0L1366.4,717.5" fill="none" stroke="#eef3c8" stroke-width="2.5" stroke-opacity="0.75" stroke-linejoin="round"/>
<path d="M374.0,1377.0L370.3,1378.3L367.2,1377.8L364.1,1377.1L361.1,1376.3L358.2,1375.5L355.3,1374.5L352.5,1373.4L349.8,1372.2L347.2,1371.0L344.6,1369.6L342.0,1368.2L339.6,1366.6L337.2,1365.0L334.8,1363.3L332.5,1361.5L330.2,1359.7L328.0,1357.8L325.9,1355.8L323.8,1353.8L321.7,1351.7L319.7,1349.6L317.7,1347.4L315.7,1345.2L313.8,1342.9L311.9,1340.6L310.0,1338.3L308.2,1335.9L306.4,1333.5L304.6,1331.1L302.8,1328.6L301.1,1326.2L299.4,1323.7L297.6,1321.2L296.0,1318.6L294.3,1316.1L292.6,1313.5L291.0,1311.0L289.4,1308.4L287.8,1305.8L286.2,1303.1L284.6,1300.5L283.1,1297.8L281.5,1295.2L280.0,1292.5L278.5,1289.8L276.9,1287.1L275.5,1284.4L274.0,1281.7L272.5,1279.0L271.0,1276.3L269.5,1273.5L268.1,1270.8L266.6,1268.1L265.2,1265.3L263.8,1262.6L262.3,1259.8L260.9,1257.1L259.5,1254.3L258.1,1251.6L256.6,1248.8L255.2,1246.1L253.8,1243.3L252.4,1240.6L251.0,1237.8L249.6,1235.1L248.1,1232.4L246.7,1229.6L245.3,1226.9L243.9,1224.2L242.5,1221.5L241.1,1218.8L239.7,1216.1L238.2,1213.4L236.8,1210.6L235.4,1207.9L234.0,1205.2L232.6,1202.5L231.2,1199.8L229.8,1197.2L228.4,1194.5L227.0,1191.8L225.6,1189.1L224.2,1186.4L222.8,1183.7L221.4,1181.0L220.0,1178.3L218.6,1175.6L217.3,1172.9L215.9,1170.2L214.5,1167.5L213.2,1164.8L211.8,1162.2L210.4,1159.5L209.1,1156.8L207.7,1154.1L206.4,1151.4L205.0,1148.7L203.7,1146.0L202.4,1143.2L201.1,1140.5L199.7,1137.8L198.4,1135.1L197.1,1132.4L195.8,1129.7L194.5,1126.9L193.2,1124.2L192.0,1121.5L190.7,1118.7L189.4,1116.0L188.2,1113.2L186.9,1110.5L185.7,1107.7L184.4,1105.0L183.2,1102.2L182.0,1099.4L180.8,1096.6L179.6,1093.9L178.4,1091.1L177.2,1088.3L176.0,1085.5L174.9,1082.6L173.7,1079.8L172.5,1077.0L171.4,1074.2L170.3,1071.3L169.2,1068.5L168.1,1065.6L167.0,1062.7L165.9,1059.9L164.8,1057.0L163.7,1054.1L162.7,1051.2L161.6,1048.3L160.6,1045.3L159.6,1042.4L158.6,1039.5L157.6,1036.5L156.6,1033.6L155.6,1030.6L154.3,1028.1" fill="none" stroke="#eef3c8" stroke-width="2.5" stroke-opacity="0.75" stroke-linejoin="round"/>
<path d="M374.3,1377.2L372.3,1375.6L370.3,1373.3L368.3,1371.0L366.3,1368.7L364.4,1366.3L362.4,1364.0L360.5,1361.7L358.6,1359.3L356.7,1356.9L354.8,1354.6L352.9,1352.2L351.0,1349.8L349.2,1347.4L347.3,1345.0L345.5,1342.6L343.7,1340.1L341.9,1337.7L340.1,1335.3L338.3,1332.8L336.6,1330.3L334.8,1327.9L333.1,1325.4L331.3,1322.9L329.6,1320.4L327.9,1317.9L326.2,1315.4L324.6,1312.9L322.9,1310.4L321.3,1307.9L319.6,1305.3L318.0,1302.8L316.4,1300.3L314.8,1297.7L313.2,1295.1L311.6,1292.6L310.1,1290.0L308.5,1287.4L307.0,1284.8L305.5,1282.2L303.9,1279.6L302.4,1277.0L301.0,1274.4L299.5,1271.7L298.0,1269.1L296.6,1266.5L295.1,1263.8L293.7,1261.2L292.3,1258.5L290.9,1255.9L289.5,1253.2L288.2,1250.5L286.8,1247.8L285.5,1245.1L284.1,1242.4L282.8,1239.7L281.5,1237.0L280.2,1234.3L279.0,1231.6L277.7,1228.9L276.4,1226.1L275.2,1223.4L274.0,1220.7L272.8,1217.9L271.6,1215.2L270.4,1212.4L269.2,1209.6L268.0,1206.9L266.9,1204.1L265.7,1201.3L264.6,1198.5L263.5,1195.7L262.4,1193.0L261.3,1190.2L260.3,1187.4L259.2,1184.5L258.2,1181.7L257.1,1178.9L256.1,1176.1L255.1,1173.3L254.1,1170.4L253.1,1167.6L252.2,1164.8L251.2,1161.9L250.3,1159.1L249.3,1156.2L248.4,1153.4L247.5,1150.5L246.6,1147.6L245.8,1144.8L244.9,1141.9L244.1,1139.0L243.2,1136.1L242.4,1133.2L241.6,1130.3L240.8,1127.5L240.0,1124.6L239.2,1121.7L238.5,1118.8L237.7,1115.9L237.0,1112.9L236.3,1110.0L235.6,1107.1L234.9,1104.2L234.2,1101.3L233.6,1098.4L232.9,1095.4L232.3,1092.5L231.6,1089.6L231.0,1086.6L230.4,1083.7L229.9,1080.7L229.3,1077.8L228.7,1074.8L228.2,1071.9L227.7,1068.9L227.1,1066.0L226.6,1063.0L226.1,1060.1L225.7,1057.1L225.2,1054.1L224.8,1051.2L224.3,1048.2L223.9,1045.2L223.5,1042.3L223.1,1039.3L222.7,1036.3L222.3,1033.3L222.0,1030.4L221.6,1027.4L221.3,1024.4L221.0,1021.4L220.7,1018.4L220.4,1015.5L220.1,1012.5L219.9,1009.5L219.6,1006.5L219.4,1003.5L219.1,1000.5L218.9,997.5L218.7,994.5L218.6,991.5L218.4,988.5L218.2,985.5L218.1,982.5L218.0,979.5L217.9,976.5L217.8,973.5L217.7,970.5L217.6,967.5L217.5,964.5L217.5,961.5L217.5,958.5L217.4,955.5L217.4,952.5L217.4,949.5L217.5,946.5L217.5,943.5L217.5,940.5L217.6,937.5L217.7,934.5L217.8,931.5L217.9,928.5L218.0,925.5L218.1,922.5L218.3,919.5L218.4,916.5L218.6,913.5L218.8,910.5L219.0,907.5L219.2,904.5L219.4,901.5L219.7,898.5L219.9,895.5L220.2,892.5L220.5,889.6L220.8,886.6L221.1,883.6L221.4,880.6L221.7,877.6L222.1,874.6L222.5,871.6L222.8,868.6L223.2,865.7L223.6,862.7L224.0,859.7L224.5,856.7L224.9,853.8L225.4,850.8L225.9,847.8L226.4,844.8L226.9,841.9L227.4,838.9L227.9,836.0L228.4,833.0L229.0,830.0L229.6,827.1L230.2,824.1L230.8,821.2L231.4,818.2L232.0,815.3L232.6,812.3L233.3,809.4L234.0,806.5L234.6,803.5L235.3,800.6L236.0,797.7L236.8,794.7L237.5,791.8L238.3,788.9L239.0,786.0L239.8,783.1L240.6,780.2L241.4,777.3L242.2,774.4L243.0,771.5L243.9,768.6L244.7,765.7L245.6,762.8L246.5,759.9L247.4,757.0L248.3,754.1L249.2,751.3L250.2,748.4L251.1,745.5L252.1,742.7L253.0,739.8L254.0,737.0L255.0,734.1L256.0,731.3L257.1,728.4L258.1,725.6L259.2,722.8L260.2,720.0L261.3,717.1L262.4,714.3L263.5,711.5L264.6,708.7L265.8,705.9L266.9,703.1L268.1,700.3L269.2,697.5L270.4,694.8L271.6,692.0L272.8,689.2L274.0,686.5L275.3,683.7L276.5,681.0L277.8,678.2L279.0,675.5L280.3,672.7L281.6,670.0L282.9,667.3L284.2,664.6L285.6,661.9L286.9,659.2L288.3,656.5L289.6,653.8L291.0,651.1L292.4,648.4L293.8,645.8L295.2,643.1L296.7,640.4L298.1,637.8L299.5,635.1L301.0,632.5L302.5,629.9L304.0,627.2L305.5,624.6L307.0,622.0L308.5,619.4L310.1,616.8L311.6,614.2L313.2,611.7L314.7,609.1L316.3,606.5L317.9,604.0L319.5,601.4L321.2,598.9L322.8,596.3L324.4,593.8L326.1,591.3L327.8,588.8L329.4,586.3L331.1,583.8L332.8,581.3L334.5,578.8L336.3,576.3L338.0,573.9L339.7,571.4L341.5,569.0L343.3,566.5L345.1,564.1L346.9,561.7L348.7,559.3L350.5,556.9L352.3,554.5L354.1,552.1L356.0,549.7L357.9,547.4L359.7,545.0L361.6,542.7L363.5,540.3L365.4,538.0L367.3,535.7L369.3,533.4L371.2,531.1L373.2,528.8L375.1,526.5L377.1,524.2L379.1,522.0L381.1,519.7L383.1,517.5L385.1,515.2L387.1,513.0L389.1,510.8L391.2,508.6L393.3,506.4L395.3,504.2L397.4,502.1L399.5,499.9L401.6,497.8L403.7,495.6L405.8,493.5L408.0,491.4L410.1,489.3L412.3,487.2L414.4,485.1L416.6,483.0L418.8,481.0L421.0,478.9L423.2,476.9L425.5,474.9L427.7,472.9L429.9,470.9L432.2,468.9L434.5,467.0L436.7,465.0L439.0,463.1L441.3,461.2L443.6,459.3L446.0,457.4L448.3,455.6L450.7,453.7L453.0,451.9L455.4,450.0L457.8,448.2L460.2,446.5L462.6,444.7L465.0,442.9L467.4,441.2L469.9,439.5L472.3,437.8L474.8,436.1L477.2,434.4L479.7,432.8L482.2,431.2L484.7,429.6L487.3,428.0L489.8,426.4L492.3,424.9L494.9,423.3L497.5,421.8L500.1,420.3L502.7,418.9L505.3,417.4L507.9,416.0L510.5,414.6L513.2,413.2L515.8,411.8L518.5,410.5L521.2,409.2L523.9,407.9L526.6,406.6L529.3,405.4L532.0,404.1L534.7,402.9L537.5,401.7L540.3,400.6L543.0,399.4L545.8,398.3L548.6,397.2L551.4,396.1L554.2,395.1L557.0,394.0L559.9,393.0L562.7,392.0L565.6,391.0L568.4,390.0L571.3,389.1L574.1,388.1L577.0,387.2L579.9,386.3L582.8,385.4L585.7,384.6L588.6,383.7L591.5,382.9L594.4,382.1L597.4,381.3L600.3,380.5L603.2,379.7L606.2,379.0L609.1,378.2L612.0,377.5L615.0,376.8L617.9,376.1L620.9,375.4L623.9,374.7L626.8,374.1L629.8,373.4L632.7,372.8L635.7,372.1L638.7,371.5L641.7,370.9L644.6,370.3L647.6,369.8L650.6,369.2L653.6,368.6L656.5,368.1L659.5,367.5L662.5,367.0L665.5,366.5L668.4,366.0L671.4,365.5L674.4,365.0L677.4,364.6L680.4,364.1L683.4,363.7L686.4,363.2L689.3,362.8L692.3,362.4L695.3,362.0L698.3,361.6L701.3,361.2L704.3,360.9L707.3,360.5L710.3,360.1L713.3,359.8L716.3,359.5L719.3,359.2L722.2,358.9L725.2,358.6L728.2,358.3L731.2,358.0L734.2,357.8L737.2,357.5L740.2,357.3L743.2,357.1L746.2,356.8L749.2,356.6L752.2,356.4L755.2,356.3L758.2,356.1L761.2,355.9L764.2,355.8L767.2,355.6L770.2,355.5L773.2,355.4L776.2,355.3L779.2,355.2L782.2,355.1L785.2,355.0L788.2,355.0L791.2,354.9L794.2,354.9L797.2,354.8L800.2,354.8L803.2,354.8L806.2,354.8L809.2,354.8L812.2,354.8L815.2,354.9L818.2,354.9L821.2,354.9L824.2,355.0L827.2,355.1L830.2,355.2L833.2,355.3L836.2,355.4L839.2,355.5L842.2,355.6L845.2,355.7L848.2,355.9L851.2,356.0L854.2,356.2L857.2,356.4L860.2,356.6L863.2,356.8L866.2,357.0L869.2,357.2L872.1,357.4L875.1,357.7L878.1,357.9L881.1,358.2L884.1,358.5L887.1,358.8L890.1,359.0L893.1,359.3L896.1,359.7L899.0,360.0L902.0,360.3L905.0,360.7L908.0,361.0L911.0,361.4L913.9,361.8L916.9,362.1L919.9,362.5L922.9,362.9L925.9,363.4L928.8,363.8L931.8,364.2L934.8,364.7L937.7,365.1L940.7,365.6L943.7,366.1L946.7,366.6L949.6,367.1L952.6,367.6L955.5,368.1L958.5,368.6L961.5,369.2L964.4,369.7L967.4,370.3L970.3,370.8L973.3,371.4L976.2,372.0L979.2,372.6L982.2,373.2L985.1,373.8L988.0,374.4L991.0,375.1L993.9,375.7L996.9,376.4L999.8,377.1L1002.8,377.7L1005.7,378.4L1008.6,379.1L1011.6,379.8L1014.5,380.6L1017.4,381.3L1020.4,382.0L1023.3,382.8L1026.2,383.5L1029.1,384.3L1032.0,385.1L1035.0,385.9L1037.9,386.7L1040.8,387.5L1043.7,388.3L1046.6,389.1L1049.5,389.9L1052.4,390.8L1055.3,391.6L1058.2,392.5L1061.1,393.4L1064.0,394.3L1066.9,395.2L1069.8,396.1L1072.7,397.0L1075.6,397.9L1078.5,398.8L1081.4,399.8L1084.2,400.7L1087.1,401.7L1090.0,402.7L1092.8,403.7L1095.7,404.7L1098.5,405.7L1101.4,406.7L1104.2,407.8L1107.1,408.8L1109.9,409.9L1112.7,411.0L1115.5,412.1L1118.3,413.2L1121.1,414.3L1123.9,415.5L1126.7,416.6L1129.5,417.8L1132.2,419.0L1135.0,420.2L1137.7,421.4L1140.5,422.7L1143.2,423.9L1145.9,425.2L1148.6,426.5L1151.3,427.8L1154.0,429.1L1156.6,430.5L1159.3,431.8L1161.9,433.2L1164.6,434.6L1167.2,436.0L1169.8,437.5L1172.4,438.9L1174.9,440.4L1177.5,441.9L1180.1,443.4L1182.6,445.0L1185.1,446.5L1187.6,448.1L1190.1,449.7L1192.6,451.3L1195.0,453.0L1197.5,454.6L1199.9,456.3L1202.3,458.1L1204.7,459.8L1207.0,461.6L1209.4,463.3L1211.7,465.2L1214.0,467.0L1216.3,468.8L1218.6,470.7L1220.9,472.6L1223.1,474.6L1225.3,476.5L1227.5,478.5L1229.7,480.5L1231.8,482.6L1234.0,484.6L1236.1,486.7L1238.2,488.8L1240.2,491.0L1242.3,493.1L1244.3,495.3L1246.3,497.5L1248.3,499.8L1250.3,502.0L1252.2,504.3L1254.2,506.6L1256.1,508.9L1258.0,511.3L1259.8,513.7L1261.7,516.0L1263.5,518.4L1265.4,520.9L1267.2,523.3L1269.0,525.7L1270.7,528.2L1272.5,530.7L1274.2,533.2L1275.9,535.7L1277.6,538.2L1279.3,540.8L1281.0,543.4L1282.7,545.9L1284.3,548.5L1285.9,551.1L1287.6,553.7L1289.2,556.3L1290.7,558.9L1292.3,561.6L1293.9,564.2L1295.4,566.9L1297.0,569.5L1298.5,572.2L1300.0,574.9L1301.5,577.5L1303.0,580.2L1304.4,582.9L1305.9,585.6L1307.4,588.3L1308.8,591.0L1310.2,593.7L1311.7,596.4L1313.1,599.1L1314.5,601.8L1315.8,604.5L1317.2,607.3L1318.6,610.0L1320.0,612.7L1321.3,615.4L1322.7,618.1L1324.0,620.8L1325.3,623.5L1326.6,626.2L1328.0,628.9L1329.3,631.6L1330.6,634.2L1331.8,636.9L1333.1,639.6L1334.4,642.3L1335.6,645.0L1336.9,647.7L1338.1,650.4L1339.4,653.0L1340.6,655.7L1341.8,658.4L1343.0,661.1L1344.2,663.8L1345.4,666.5L1346.5,669.2L1347.7,671.9L1348.9,674.7L1350.0,677.4L1351.1,680.1L1352.2,682.9L1353.3,685.6L1354.4,688.4L1355.5,691.1L1356.6,693.9L1357.6,696.7L1358.6,699.5L1359.7,702.3L1360.7,705.1L1361.7,707.9L1362.7,710.7L1363.6,713.6L1364.6,716.4L1366.4,719.0L1366.4,719.0L1367.2,722.2L1367.8,725.1L1368.4,728.0L1369.0,730.9L1369.6,733.9L1370.2,736.8L1370.8,739.7L1371.4,742.6L1372.0,745.5L1372.6,748.5L1373.2,751.4L1373.7,754.3L1374.3,757.3L1374.9,760.2L1375.4,763.1L1376.0,766.1L1376.6,769.0L1377.1,772.0L1377.6,774.9L1378.2,777.9L1378.7,780.8L1379.2,783.8L1379.8,786.7L1380.3,789.7L1380.8,792.6L1381.3,795.6L1381.8,798.6L1382.3,801.5L1382.8,804.5L1383.3,807.5L1383.7,810.4L1384.2,813.4L1384.7,816.4L1385.1,819.4L1385.6,822.3L1386.0,825.3L1386.5,828.3L1386.9,831.3L1387.3,834.3L1387.7,837.3L1388.2,840.2L1388.6,843.2L1389.0,846.2L1389.3,849.2L1389.7,852.2L1390.1,855.2L1390.5,858.2L1390.8,861.2L1391.2,864.2L1391.5,867.2L1391.9,870.2L1392.2,873.2L1392.5,876.2L1392.8,879.2L1393.1,882.2L1393.4,885.2L1393.7,888.2L1394.0,891.2L1394.2,894.2L1394.5,897.2L1394.7,900.2L1395.0,903.2L1395.2,906.2L1395.4,909.2L1395.6,912.2L1395.8,915.2L1396.0,918.3L1396.2,921.3L1396.4,924.3L1396.6,927.3L1396.7,930.3L1396.9,933.3L1397.0,936.3L1397.1,939.3L1397.2,942.3L1397.3,945.4L1397.4,948.4L1397.5,951.4L1397.6,954.4L1397.6,957.4L1397.7,960.4L1397.7,963.4L1397.7,966.4L1397.8,969.4L1397.8,972.4L1397.7,975.5L1397.7,978.5L1397.7,981.5L1397.7,984.5L1397.6,987.5L1397.5,990.5L1397.4,993.5L1397.4,996.5L1397.3,999.5L1397.1,1002.5L1397.0,1005.5L1396.9,1008.5L1396.7,1011.5L1396.5,1014.5L1396.4,1017.5L1396.2,1020.5L1396.0,1023.5L1395.7,1026.5L1395.5,1029.5L1395.3,1032.5L1395.0,1035.5L1394.7,1038.5L1394.4,1041.5L1394.1,1044.5L1393.8,1047.5L1393.5,1050.5L1393.2,1053.4L1392.8,1056.4L1392.4,1059.4L1392.1,1062.4L1391.7,1065.4L1391.2,1068.4L1390.8,1071.3L1390.4,1074.3L1389.9,1077.3L1389.4,1080.3L1388.9,1083.2L1388.4,1086.2L1387.9,1089.2L1387.4,1092.1L1386.8,1095.1L1386.3,1098.1L1385.7,1101.0L1385.1,1104.0L1384.5,1106.9L1383.9,1109.9L1383.2,1112.8L1382.6,1115.8L1381.9,1118.7L1381.2,1121.7L1380.5,1124.6L1379.7,1127.6L1379.0,1130.5L1378.2,1133.4L1377.5,1136.4L1376.7,1139.3L1375.9,1142.2L1375.0,1145.1L1374.2,1148.0L1373.3,1150.9L1372.4,1153.8L1371.5,1156.7L1370.6,1159.6L1369.7,1162.5L1368.7,1165.3L1367.7,1168.2L1366.7,1171.0L1365.7,1173.9L1364.7,1176.7L1363.6,1179.6L1362.5,1182.4L1361.5,1185.2L1360.3,1188.0L1359.2,1190.8L1358.0,1193.6L1356.9,1196.3L1355.7,1199.1L1354.5,1201.8L1353.2,1204.6L1352.0,1207.3L1350.7,1210.0L1349.4,1212.7L1348.1,1215.4L1346.7,1218.1L1345.4,1220.8L1344.0,1223.4L1342.6,1226.0L1341.1,1228.7L1339.7,1231.3L1338.2,1233.9L1336.7,1236.5L1335.2,1239.0L1333.7,1241.6L1332.1,1244.2L1330.5,1246.7L1328.9,1249.2L1327.3,1251.7L1325.7,1254.2L1324.1,1256.7L1322.4,1259.2L1320.7,1261.6L1319.0,1264.1L1317.3,1266.5L1315.5,1268.9L1313.8,1271.3L1312.0,1273.7L1310.2,1276.1L1308.4,1278.5L1306.5,1280.8L1304.7,1283.2L1302.8,1285.5L1300.9,1287.8L1299.0,1290.1L1297.1,1292.4L1295.2,1294.7L1293.2,1297.0L1291.3,1299.2L1289.3,1301.5L1287.3,1303.7L1285.3,1305.9L1283.3,1308.1L1281.2,1310.3L1279.2,1312.5L1277.1,1314.7L1275.0,1316.8L1272.9,1319.0L1270.8,1321.1L1268.7,1323.2L1266.6,1325.3L1264.4,1327.4L1262.2,1329.5L1260.1,1331.6L1257.9,1333.6L1255.7,1335.6L1253.5,1337.7L1251.2,1339.7L1249.0,1341.7L1246.7,1343.7L1244.5,1345.7L1242.2,1347.6L1239.9,1349.6L1237.6,1351.5L1235.3,1353.5L1233.0,1355.4L1230.7,1357.3L1228.3,1359.2L1226.0,1361.1L1223.6,1363.0L1221.3,1364.8L1218.9,1366.7L1216.5,1368.5L1214.1,1370.3L1211.7,1372.1L1209.3,1373.9L1206.9,1375.7L1204.4,1377.5L1202.0,1379.2L1199.5,1381.0L1197.1,1382.7L1194.6,1384.4L1192.1,1386.2L1189.7,1387.9L1187.2,1389.5L1184.7,1391.2L1182.2,1392.9L1179.7,1394.5L1177.2,1396.2L1174.6,1397.8L1172.1,1399.4L1169.6,1401.0L1167.0,1402.6L1164.5,1404.2L1161.9,1405.8L1159.3,1407.3L1156.8,1408.9L1154.2,1410.4L1151.6,1411.9L1149.0,1413.4L1146.4,1414.9L1143.8,1416.4L1141.2,1417.9L1138.6,1419.4L1136.0,1420.8L1133.3,1422.3L1130.7,1423.7L1128.0,1425.1L1125.4,1426.5L1122.7,1427.9L1120.1,1429.3L1117.4,1430.7L1114.7,1432.0L1112.0,1433.4L1109.4,1434.7L1106.7,1436.0L1104.0,1437.4L1101.3,1438.7L1098.6,1440.0L1095.8,1441.2L1093.1,1442.5L1090.4,1443.8L1087.7,1445.0L1084.9,1446.3L1082.2,1447.5L1079.4,1448.7L1076.7,1449.9L1073.9,1451.1L1071.2,1452.3L1068.4,1453.5L1065.6,1454.6L1062.9,1455.8L1060.1,1456.9L1057.3,1458.1L1054.5,1459.2L1051.7,1460.3L1048.9,1461.4L1046.1,1462.5L1043.3,1463.5L1040.5,1464.6L1037.6,1465.7L1034.8,1466.7L1032.0,1467.7L1029.2,1468.8L1026.3,1469.8L1023.5,1470.8L1020.6,1471.8L1017.8,1472.7L1014.9,1473.7L1012.1,1474.7L1009.2,1475.6L1006.4,1476.6L1003.5,1477.5L1000.6,1478.4L997.7,1479.3L994.9,1480.2L992.0,1481.1L989.1,1482.0L986.2,1482.9L983.3,1483.7L980.4,1484.6L977.5,1485.4L974.6,1486.2L971.7,1487.0L968.8,1487.8L965.9,1488.6L963.0,1489.4L960.0,1490.2L957.1,1491.0L954.2,1491.7L951.3,1492.5L948.3,1493.2L945.4,1493.9L942.5,1494.7L939.5,1495.4L936.6,1496.1L933.6,1496.8L930.7,1497.4L927.8,1498.1L924.8,1498.8L921.9,1499.4L918.9,1500.1L915.9,1500.7L913.0,1501.3L910.0,1501.9L907.1,1502.5L904.1,1503.1L901.1,1503.7L898.2,1504.3L895.2,1504.8L892.2,1505.4L889.2,1505.9L886.3,1506.5L883.3,1507.0L880.3,1507.5L877.3,1508.0L874.4,1508.5L871.4,1509.0L868.4,1509.5L865.4,1510.0L862.4,1510.4L859.4,1510.9L856.4,1511.3L853.5,1511.8L850.5,1512.2L847.5,1512.6L844.5,1513.0L841.5,1513.4L838.5,1513.8L835.5,1514.2L832.5,1514.6L829.5,1514.9L826.5,1515.3L823.5,1515.6L820.5,1516.0L817.5,1516.3L814.5,1516.6L811.5,1516.9L808.5,1517.2L805.5,1517.5L802.5,1517.8L799.5,1518.1L796.5,1518.3L793.5,1518.6L790.5,1518.8L787.5,1519.0L784.6,1519.3L781.6,1519.5L778.6,1519.7L775.6,1519.8L772.6,1520.0L769.6,1520.2L766.6,1520.3L763.6,1520.5L760.6,1520.6L757.6,1520.7L754.6,1520.8L751.6,1520.9L748.6,1521.0L745.6,1521.1L742.6,1521.1L739.6,1521.2L736.6,1521.2L733.6,1521.2L730.6,1521.3L727.7,1521.2L724.7,1521.2L721.7,1521.2L718.7,1521.2L715.7,1521.1L712.7,1521.0L709.7,1520.9L706.8,1520.9L703.8,1520.7L700.8,1520.6L697.8,1520.5L694.8,1520.3L691.9,1520.2L688.9,1520.0L685.9,1519.8L683.0,1519.6L680.0,1519.3L677.0,1519.1L674.0,1518.9L671.1,1518.6L668.1,1518.3L665.2,1518.0L662.2,1517.7L659.2,1517.4L656.3,1517.0L653.3,1516.6L650.4,1516.3L647.4,1515.9L644.5,1515.5L641.5,1515.0L638.6,1514.6L635.6,1514.1L632.7,1513.7L629.8,1513.2L626.8,1512.7L623.9,1512.1L621.0,1511.6L618.0,1511.0L615.1,1510.5L612.2,1509.9L609.3,1509.3L606.4,1508.6L603.4,1508.0L600.5,1507.3L597.6,1506.6L594.7,1505.9L591.8,1505.2L588.9,1504.5L586.0,1503.7L583.1,1502.9L580.2,1502.1L577.3,1501.3L574.4,1500.5L571.6,1499.7L568.7,1498.8L565.8,1497.9L562.9,1497.0L560.0,1496.1L557.2,1495.1L554.3,1494.2L551.5,1493.2L548.6,1492.2L545.7,1491.1L542.9,1490.1L540.1,1489.0L537.2,1488.0L534.4,1486.9L531.6,1485.7L528.7,1484.6L525.9,1483.4L523.1,1482.3L520.3,1481.1L517.5,1479.9L514.7,1478.6L511.9,1477.4L509.2,1476.1L506.4,1474.8L503.6,1473.5L500.9,1472.2L498.1,1470.9L495.4,1469.5L492.7,1468.1L490.0,1466.7L487.3,1465.3L484.6,1463.9L481.9,1462.4L479.2,1461.0L476.6,1459.5L473.9,1458.0L471.3,1456.5L468.6,1454.9L466.0,1453.4L463.4,1451.8L460.8,1450.2L458.2,1448.6L455.7,1447.0L453.1,1445.4L450.6,1443.7L448.0,1442.1L445.5,1440.4L443.0,1438.7L440.5,1436.9L438.1,1435.2L435.6,1433.5L433.2,1431.7L430.7,1429.9L428.3,1428.1L425.9,1426.3L423.5,1424.5L421.2,1422.6L418.8,1420.8L416.5,1418.9L414.2,1417.0L411.9,1415.1L409.6,1413.1L407.3,1411.2L405.1,1409.3L402.8,1407.3L400.6,1405.3L398.4,1403.3L396.3,1401.3L394.1,1399.2L392.0,1397.2L389.9,1395.1L387.8,1393.1L385.7,1391.0L383.7,1388.9L381.6,1386.7L379.6,1384.6L377.6,1382.5L375.7,1380.3L374.3,1377.2Z" fill="#e0390b"/>
<path d="M1366.4,719.0L1367.2,722.2L1367.8,725.1L1368.4,728.0L1369.0,730.9L1369.6,733.9L1370.2,736.8L1370.8,739.7L1371.4,742.6L1372.0,745.5L1372.6,748.5L1373.2,751.4L1373.7,754.3L1374.3,757.3L1374.9,760.2L1375.4,763.1L1376.0,766.1L1376.6,769.0L1377.1,772.0L1377.6,774.9L1378.2,777.9L1378.7,780.8L1379.2,783.8L1379.8,786.7L1380.3,789.7L1380.8,792.6L1381.3,795.6L1381.8,798.6L1382.3,801.5L1382.8,804.5L1383.3,807.5L1383.7,810.4L1384.2,813.4L1384.7,816.4L1385.1,819.4L1385.6,822.3L1386.0,825.3L1386.5,828.3L1386.9,831.3L1387.3,834.3L1387.7,837.3L1388.2,840.2L1388.6,843.2L1389.0,846.2L1389.3,849.2L1389.7,852.2L1390.1,855.2L1390.5,858.2L1390.8,861.2L1391.2,864.2L1391.5,867.2L1391.9,870.2L1392.2,873.2L1392.5,876.2L1392.8,879.2L1393.1,882.2L1393.4,885.2L1393.7,888.2L1394.0,891.2L1394.2,894.2L1394.5,897.2L1394.7,900.2L1395.0,903.2L1395.2,906.2L1395.4,909.2L1395.6,912.2L1395.8,915.2L1396.0,918.3L1396.2,921.3L1396.4,924.3L1396.6,927.3L1396.7,930.3L1396.9,933.3L1397.0,936.3L1397.1,939.3L1397.2,942.3L1397.3,945.4L1397.4,948.4L1397.5,951.4L1397.6,954.4L1397.6,957.4L1397.7,960.4L1397.7,963.4L1397.7,966.4L1397.8,969.4L1397.8,972.4L1397.7,975.5L1397.7,978.5L1397.7,981.5L1397.7,984.5L1397.6,987.5L1397.5,990.5L1397.4,993.5L1397.4,996.5L1397.3,999.5L1397.1,1002.5L1397.0,1005.5L1396.9,1008.5L1396.7,1011.5L1396.5,1014.5L1396.4,1017.5L1396.2,1020.5L1396.0,1023.5L1395.7,1026.5L1395.5,1029.5L1395.3,1032.5L1395.0,1035.5L1394.7,1038.5L1394.4,1041.5L1394.1,1044.5L1393.8,1047.5L1393.5,1050.5L1393.2,1053.4L1392.8,1056.4L1392.4,1059.4L1392.1,1062.4L1391.7,1065.4L1391.2,1068.4L1390.8,1071.3L1390.4,1074.3L1389.9,1077.3L1389.4,1080.3L1388.9,1083.2L1388.4,1086.2L1387.9,1089.2L1387.4,1092.1L1386.8,1095.1L1386.3,1098.1L1385.7,1101.0L1385.1,1104.0L1384.5,1106.9L1383.9,1109.9L1383.2,1112.8L1382.6,1115.8L1381.9,1118.7L1381.2,1121.7L1380.5,1124.6L1379.7,1127.6L1379.0,1130.5L1378.2,1133.4L1377.5,1136.4L1376.7,1139.3L1375.9,1142.2L1375.0,1145.1L1374.2,1148.0L1373.3,1150.9L1372.4,1153.8L1371.5,1156.7L1370.6,1159.6L1369.7,1162.5L1368.7,1165.3L1367.7,1168.2L1366.7,1171.0L1365.7,1173.9L1364.7,1176.7L1363.6,1179.6L1362.5,1182.4L1361.5,1185.2L1360.3,1188.0L1359.2,1190.8L1358.0,1193.6L1356.9,1196.3L1355.7,1199.1L1354.5,1201.8L1353.2,1204.6L1352.0,1207.3L1350.7,1210.0L1349.4,1212.7L1348.1,1215.4L1346.7,1218.1L1345.4,1220.8L1344.0,1223.4L1342.6,1226.0L1341.1,1228.7L1339.7,1231.3L1338.2,1233.9L1336.7,1236.5L1335.2,1239.0L1333.7,1241.6L1332.1,1244.2L1330.5,1246.7L1328.9,1249.2L1327.3,1251.7L1325.7,1254.2L1324.1,1256.7L1322.4,1259.2L1320.7,1261.6L1319.0,1264.1L1317.3,1266.5L1315.5,1268.9L1313.8,1271.3L1312.0,1273.7L1310.2,1276.1L1308.4,1278.5L1306.5,1280.8L1304.7,1283.2L1302.8,1285.5L1300.9,1287.8L1299.0,1290.1L1297.1,1292.4L1295.2,1294.7L1293.2,1297.0L1291.3,1299.2L1289.3,1301.5L1287.3,1303.7L1285.3,1305.9L1283.3,1308.1L1281.2,1310.3L1279.2,1312.5L1277.1,1314.7L1275.0,1316.8L1272.9,1319.0L1270.8,1321.1L1268.7,1323.2L1266.6,1325.3L1264.4,1327.4L1262.2,1329.5L1260.1,1331.6L1257.9,1333.6L1255.7,1335.6L1253.5,1337.7L1251.2,1339.7L1249.0,1341.7L1246.7,1343.7L1244.5,1345.7L1242.2,1347.6L1239.9,1349.6L1237.6,1351.5L1235.3,1353.5L1233.0,1355.4L1230.7,1357.3L1228.3,1359.2L1226.0,1361.1L1223.6,1363.0L1221.3,1364.8L1218.9,1366.7L1216.5,1368.5L1214.1,1370.3L1211.7,1372.1L1209.3,1373.9L1206.9,1375.7L1204.4,1377.5L1202.0,1379.2L1199.5,1381.0L1197.1,1382.7L1194.6,1384.4L1192.1,1386.2L1189.7,1387.9L1187.2,1389.5L1184.7,1391.2L1182.2,1392.9L1179.7,1394.5L1177.2,1396.2L1174.6,1397.8L1172.1,1399.4L1169.6,1401.0L1167.0,1402.6L1164.5,1404.2L1161.9,1405.8L1159.3,1407.3L1156.8,1408.9L1154.2,1410.4L1151.6,1411.9L1149.0,1413.4L1146.4,1414.9L1143.8,1416.4L1141.2,1417.9L1138.6,1419.4L1136.0,1420.8L1133.3,1422.3L1130.7,1423.7L1128.0,1425.1L1125.4,1426.5L1122.7,1427.9L1120.1,1429.3L1117.4,1430.7L1114.7,1432.0L1112.0,1433.4L1109.4,1434.7L1106.7,1436.0L1104.0,1437.4L1101.3,1438.7L1098.6,1440.0L1095.8,1441.2L1093.1,1442.5L1090.4,1443.8L1087.7,1445.0L1084.9,1446.3L1082.2,1447.5L1079.4,1448.7L1076.7,1449.9L1073.9,1451.1L1071.2,1452.3L1068.4,1453.5L1065.6,1454.6L1062.9,1455.8L1060.1,1456.9L1057.3,1458.1L1054.5,1459.2L1051.7,1460.3L1048.9,1461.4L1046.1,1462.5L1043.3,1463.5L1040.5,1464.6L1037.6,1465.7L1034.8,1466.7L1032.0,1467.7L1029.2,1468.8L1026.3,1469.8L1023.5,1470.8L1020.6,1471.8L1017.8,1472.7L1014.9,1473.7L1012.1,1474.7L1009.2,1475.6L1006.4,1476.6L1003.5,1477.5L1000.6,1478.4L997.7,1479.3L994.9,1480.2L992.0,1481.1L989.1,1482.0L986.2,1482.9L983.3,1483.7L980.4,1484.6L977.5,1485.4L974.6,1486.2L971.7,1487.0L968.8,1487.8L965.9,1488.6L963.0,1489.4L960.0,1490.2L957.1,1491.0L954.2,1491.7L951.3,1492.5L948.3,1493.2L945.4,1493.9L942.5,1494.7L939.5,1495.4L936.6,1496.1L933.6,1496.8L930.7,1497.4L927.8,1498.1L924.8,1498.8L921.9,1499.4L918.9,1500.1L915.9,1500.7L913.0,1501.3L910.0,1501.9L907.1,1502.5L904.1,1503.1L901.1,1503.7L898.2,1504.3L895.2,1504.8L892.2,1505.4L889.2,1505.9L886.3,1506.5L883.3,1507.0L880.3,1507.5L877.3,1508.0L874.4,1508.5L871.4,1509.0L868.4,1509.5L865.4,1510.0L862.4,1510.4L859.4,1510.9L856.4,1511.3L853.5,1511.8L850.5,1512.2L847.5,1512.6L844.5,1513.0L841.5,1513.4L838.5,1513.8L835.5,1514.2L832.5,1514.6L829.5,1514.9L826.5,1515.3L823.5,1515.6L820.5,1516.0L817.5,1516.3L814.5,1516.6L811.5,1516.9L808.5,1517.2L805.5,1517.5L802.5,1517.8L799.5,1518.1L796.5,1518.3L793.5,1518.6L790.5,1518.8L787.5,1519.0L784.6,1519.3L781.6,1519.5L778.6,1519.7L775.6,1519.8L772.6,1520.0L769.6,1520.2L766.6,1520.3L763.6,1520.5L760.6,1520.6L757.6,1520.7L754.6,1520.8L751.6,1520.9L748.6,1521.0L745.6,1521.1L742.6,1521.1L739.6,1521.2L736.6,1521.2L733.6,1521.2L730.6,1521.3L727.7,1521.2L724.7,1521.2L721.7,1521.2L718.7,1521.2L715.7,1521.1L712.7,1521.0L709.7,1520.9L706.8,1520.9L703.8,1520.7L700.8,1520.6L697.8,1520.5L694.8,1520.3L691.9,1520.2L688.9,1520.0L685.9,1519.8L683.0,1519.6L680.0,1519.3L677.0,1519.1L674.0,1518.9L671.1,1518.6L668.1,1518.3L665.2,1518.0L662.2,1517.7L659.2,1517.4L656.3,1517.0L653.3,1516.6L650.4,1516.3L647.4,1515.9L644.5,1515.5L641.5,1515.0L638.6,1514.6L635.6,1514.1L632.7,1513.7L629.8,1513.2L626.8,1512.7L623.9,1512.1L621.0,1511.6L618.0,1511.0L615.1,1510.5L612.2,1509.9L609.3,1509.3L606.4,1508.6L603.4,1508.0L600.5,1507.3L597.6,1506.6L594.7,1505.9L591.8,1505.2L588.9,1504.5L586.0,1503.7L583.1,1502.9L580.2,1502.1L577.3,1501.3L574.4,1500.5L571.6,1499.7L568.7,1498.8L565.8,1497.9L562.9,1497.0L560.0,1496.1L557.2,1495.1L554.3,1494.2L551.5,1493.2L548.6,1492.2L545.7,1491.1L542.9,1490.1L540.1,1489.0L537.2,1488.0L534.4,1486.9L531.6,1485.7L528.7,1484.6L525.9,1483.4L523.1,1482.3L520.3,1481.1L517.5,1479.9L514.7,1478.6L511.9,1477.4L509.2,1476.1L506.4,1474.8L503.6,1473.5L500.9,1472.2L498.1,1470.9L495.4,1469.5L492.7,1468.1L490.0,1466.7L487.3,1465.3L484.6,1463.9L481.9,1462.4L479.2,1461.0L476.6,1459.5L473.9,1458.0L471.3,1456.5L468.6,1454.9L466.0,1453.4L463.4,1451.8L460.8,1450.2L458.2,1448.6L455.7,1447.0L453.1,1445.4L450.6,1443.7L448.0,1442.1L445.5,1440.4L443.0,1438.7L440.5,1436.9L438.1,1435.2L435.6,1433.5L433.2,1431.7L430.7,1429.9L428.3,1428.1L425.9,1426.3L423.5,1424.5L421.2,1422.6L418.8,1420.8L416.5,1418.9L414.2,1417.0L411.9,1415.1L409.6,1413.1L407.3,1411.2L405.1,1409.3L402.8,1407.3L400.6,1405.3L398.4,1403.3L396.3,1401.3L394.1,1399.2L392.0,1397.2L389.9,1395.1L387.8,1393.1L385.7,1391.0L383.7,1388.9L381.6,1386.7L379.6,1384.6L377.6,1382.5L375.7,1380.3L374.3,1377.2" fill="none" stroke="#fbd2bc" stroke-width="2.5" stroke-opacity="0.75" stroke-linejoin="round"/>
<path d="M641.1,630.7L643.9,629.5L646.6,628.4L649.4,627.3L652.2,626.2L655.1,625.1L657.9,624.1L660.7,623.1L663.5,622.1L666.3,621.1L669.2,620.1L672.0,619.2L674.8,618.3L677.7,617.4L680.5,616.5L683.4,615.6L686.2,614.8L689.1,614.0L692.0,613.2L694.8,612.4L697.7,611.6L700.6,610.9L703.5,610.2L706.4,609.5L709.3,608.8L712.2,608.1L715.1,607.5L718.0,606.8L720.9,606.2L723.8,605.6L726.7,605.1L729.6,604.5L732.5,604.0L735.5,603.4L738.4,602.9L741.3,602.5L744.3,602.0L747.2,601.5L750.1,601.1L753.1,600.7L756.0,600.3L759.0,599.9L761.9,599.5L764.9,599.2L767.8,598.9L770.8,598.6L773.8,598.3L776.7,598.0L779.7,597.7L782.7,597.5L785.6,597.2L788.6,597.0L791.6,596.8L794.6,596.6L797.6,596.5L800.5,596.3L803.5,596.2L806.5,596.1L809.5,595.9L812.5,595.9L815.5,595.8L818.5,595.7L821.5,595.7L824.5,595.6L827.5,595.6L830.5,595.6L833.5,595.6L836.5,595.7L839.5,595.7L842.5,595.7L845.5,595.8L848.5,595.9L851.6,596.0L854.6,596.1L857.6,596.2L860.6,596.4L863.6,596.5L866.6,596.7L869.6,596.8L872.7,597.0L875.7,597.2L878.7,597.4L881.7,597.7L884.7,597.9L887.8,598.2L890.8,598.4L893.8,598.7L896.8,599.0L899.9,599.3L902.9,599.6L905.9,599.9L908.9,600.2L911.9,600.6L915.0,601.0L918.0,601.3L921.0,601.7L924.0,602.1L927.1,602.5L930.1,602.9L933.1,603.3L936.1,603.8L939.1,604.2L942.2,604.7L945.2,605.1L948.2,605.6L951.2,606.1L954.2,606.6L957.2,607.1L960.3,607.6L963.3,608.1L966.3,608.7L969.3,609.2L972.3,609.8L975.3,610.3L978.3,610.9L981.3,611.5L984.3,612.1L987.3,612.7L990.3,613.3L993.3,613.9L996.3,614.6L999.3,615.2L1002.3,615.9L1005.3,616.6L1008.2,617.3L1011.2,618.0L1014.1,618.7L1017.1,619.5L1020.1,620.2L1023.0,621.0L1025.9,621.8L1028.9,622.6L1031.8,623.4L1034.7,624.2L1037.6,625.1L1040.5,626.0L1043.4,626.9L1046.2,627.8L1049.1,628.7L1052.0,629.6L1054.8,630.6L1057.7,631.6L1060.5,632.6L1063.3,633.6L1066.1,634.6L1068.9,635.7L1071.7,636.8L1074.4,637.9L1077.2,639.0L1079.9,640.2L1082.7,641.4L1085.4,642.6L1088.1,643.8L1090.8,645.0L1093.5,646.3L1096.1,647.6L1098.8,648.9L1101.4,650.3L1104.0,651.7L1106.6,653.1L1109.2,654.5L1111.7,655.9L1114.3,657.4L1116.8,658.9L1119.3,660.5L1121.8,662.0L1124.3,663.6L1126.7,665.2L1129.2,666.9L1131.6,668.6L1134.0,670.3L1136.4,672.0L1138.7,673.8L1141.1,675.6L1143.4,677.4L1145.7,679.3L1148.0,681.2L1150.2,683.1L1152.5,685.0L1154.7,687.0L1156.9,689.0L1159.1,691.0L1161.2,693.1L1163.4,695.2L1165.5,697.3L1167.6,699.4L1169.7,701.5L1171.7,703.7L1173.8,705.9L1175.8,708.1L1177.8,710.4L1179.8,712.6L1181.7,714.9L1183.7,717.2L1185.6,719.5L1187.5,721.9L1189.4,724.2L1191.3,726.6L1193.1,729.0L1194.9,731.4L1196.7,733.8L1198.5,736.3L1200.3,738.7L1202.0,741.2L1203.8,743.7L1205.5,746.2L1207.2,748.7L1208.8,751.2L1210.5,753.8L1212.1,756.3L1213.8,758.9L1215.4,761.5L1216.9,764.1L1218.5,766.7L1220.0,769.3L1221.6,771.9L1223.1,774.5L1224.6,777.1L1226.0,779.8L1227.5,782.4L1228.9,785.1L1230.3,787.7L1231.7,790.4L1233.1,793.1L1234.4,795.8L1235.8,798.5L1237.1,801.2L1238.4,803.9L1239.7,806.6L1241.0,809.3L1242.2,812.0L1243.4,814.8L1244.7,817.5L1245.9,820.3L1247.0,823.0L1248.2,825.8L1249.4,828.5L1250.5,831.3L1251.6,834.1L1252.7,836.9L1253.8,839.7L1254.8,842.5L1255.9,845.3L1256.9,848.1L1257.9,850.9L1258.9,853.8L1259.9,856.6L1260.8,859.4L1261.8,862.3L1262.7,865.1L1263.6,868.0L1264.5,870.8L1265.4,873.7L1266.3,876.6L1267.1,879.4L1267.9,882.3L1268.8,885.2L1269.6,888.1L1270.3,891.0L1271.1,893.9L1271.9,896.8L1272.6,899.7L1273.3,902.6L1274.0,905.5L1274.7,908.5L1275.4,911.4L1276.0,914.3L1276.7,917.3L1277.3,920.2L1277.9,923.1L1278.5,926.1L1279.1,929.0L1279.7,932.0L1280.2,934.9L1280.8,937.9L1281.3,940.9L1281.8,943.8L1282.3,946.8L1282.8,949.8L1283.3,952.8L1283.7,955.7L1284.2,958.7L1284.6,961.7L1285.0,964.7L1285.4,967.7L1285.8,970.7L1286.1,973.7L1286.5,976.7L1286.8,979.7L1287.2,982.7L1287.5,985.7L1287.8,988.7L1288.1,991.7L1288.3,994.7L1288.6,997.7L1288.8,1000.7L1289.1,1003.8L1289.3,1006.8L1289.5,1009.8L1289.7,1012.8L1289.9,1015.8L1290.0,1018.9L1290.2,1021.9L1290.3,1024.9L1290.5,1028.0L1290.6,1031.0L1290.7,1034.0L1290.8,1037.0L1290.8,1040.1L1290.9,1043.1L1291.0,1046.1L1291.0,1049.2L1291.0,1052.2L1291.1,1055.2L1291.1,1058.3L1291.1,1061.3L1291.0,1064.3L1291.0,1067.4L1291.0,1070.4L1290.9,1073.4L1290.8,1076.5L1290.8,1079.5L1290.7,1082.5L1290.6,1085.6L1290.5,1088.6L1290.3,1091.6L1290.2,1094.7L1290.1,1097.7L1289.9,1100.7L1289.7,1103.7L1289.5,1106.7L1289.3,1109.8L1289.1,1112.8L1288.9,1115.8L1288.6,1118.8L1288.4,1121.8L1288.1,1124.8L1287.8,1127.8L1287.5,1130.8L1287.2,1133.8L1286.8,1136.8L1286.5,1139.8L1286.1,1142.8L1285.7,1145.8L1285.3,1148.7L1284.8,1151.7L1284.4,1154.7L1283.9,1157.6L1283.4,1160.6L1282.9,1163.5L1282.4,1166.5L1281.9,1169.4L1281.3,1172.3L1280.7,1175.3L1280.1,1178.2L1279.5,1181.1L1278.8,1184.0L1278.2,1186.9L1277.5,1189.8L1276.8,1192.7L1276.0,1195.5L1275.3,1198.4L1274.5,1201.3L1273.7,1204.1L1272.9,1207.0L1272.0,1209.8L1271.2,1212.6L1270.3,1215.4L1269.3,1218.2L1268.4,1221.0L1267.4,1223.8L1266.4,1226.6L1265.4,1229.4L1264.4,1232.1L1263.3,1234.9L1262.2,1237.6L1261.0,1240.3L1259.9,1243.0L1258.7,1245.7L1257.5,1248.4L1256.3,1251.1L1255.0,1253.8L1253.7,1256.4L1252.4,1259.1L1251.0,1261.7L1249.6,1264.3L1248.2,1266.9L1246.8,1269.5L1245.3,1272.1L1243.8,1274.7L1242.3,1277.2L1240.7,1279.8L1239.1,1282.3L1237.5,1284.8L1235.8,1287.3L1234.1,1289.8L1232.4,1292.2L1230.7,1294.7L1228.9,1297.1L1227.1,1299.6L1225.3,1302.0L1223.4,1304.4L1221.6,1306.7L1219.7,1309.1L1217.7,1311.4L1215.8,1313.8L1213.8,1316.1L1211.8,1318.4L1209.8,1320.7L1207.8,1322.9L1205.7,1325.2L1203.6,1327.4L1201.5,1329.6L1199.4,1331.8L1197.3,1334.0L1195.1,1336.2L1192.9,1338.3L1190.7,1340.4L1188.5,1342.5L1186.3,1344.6L1184.0,1346.7L1181.8,1348.8L1179.5,1350.8L1177.2,1352.8L1174.9,1354.8L1172.6,1356.8L1170.2,1358.7L1167.9,1360.7L1165.5,1362.6L1163.1,1364.5L1160.7,1366.3L1158.3,1368.2L1155.9,1370.0L1153.5,1371.8L1151.1,1373.6L1148.6,1375.4L1146.2,1377.2L1143.7,1378.9L1141.2,1380.6L1138.8,1382.3L1136.3,1384.0L1133.8,1385.7L1131.3,1387.3L1128.8,1389.0L1126.2,1390.6L1123.7,1392.2L1121.2,1393.8L1118.6,1395.4L1116.1,1397.0L1113.5,1398.6L1110.9,1400.1L1108.4,1401.7L1105.8,1403.2L1103.2,1404.7L1100.6,1406.3L1098.0,1407.8L1095.4,1409.3L1092.8,1410.7L1090.2,1412.2L1087.5,1413.7L1084.9,1415.1L1082.3,1416.6L1079.6,1418.0L1077.0,1419.4L1074.3,1420.8L1071.6,1422.2L1069.0,1423.6L1066.3,1425.0L1063.6,1426.3L1060.9,1427.7L1058.2,1429.0L1055.5,1430.3L1052.8,1431.6L1050.1,1432.9L1047.4,1434.2L1044.6,1435.5L1041.9,1436.7L1039.2,1438.0L1036.4,1439.2L1033.7,1440.4L1030.9,1441.7L1028.1,1442.9L1025.4,1444.0L1022.6,1445.2L1019.8,1446.4L1017.1,1447.5L1014.3,1448.7L1011.5,1449.8L1008.7,1450.9L1005.9,1452.0L1003.1,1453.1L1000.3,1454.1L997.4,1455.2L994.6,1456.3L991.8,1457.3L989.0,1458.3L986.1,1459.3L983.3,1460.3L980.4,1461.3L977.6,1462.2L974.7,1463.2L971.9,1464.1L969.0,1465.1L966.2,1466.0L963.3,1466.9L960.4,1467.8L957.5,1468.6L954.7,1469.5L951.8,1470.3L948.9,1471.1L946.0,1472.0L943.1,1472.8L940.2,1473.5L937.3,1474.3L934.4,1475.1L931.5,1475.8L928.6,1476.5L925.7,1477.3L922.7,1478.0L919.8,1478.6L916.9,1479.3L914.0,1480.0L911.0,1480.6L908.1,1481.2L905.2,1481.9L902.2,1482.5L899.3,1483.0L896.3,1483.6L893.4,1484.2L890.4,1484.7L887.5,1485.2L884.5,1485.7L881.6,1486.2L878.6,1486.7L875.7,1487.1L872.7,1487.6L869.7,1488.0L866.8,1488.4L863.8,1488.8L860.8,1489.2L857.8,1489.6L854.9,1489.9L851.9,1490.3L848.9,1490.6L845.9,1490.9L842.9,1491.2L840.0,1491.5L837.0,1491.7L834.0,1492.0L831.0,1492.2L828.0,1492.4L825.0,1492.6L822.0,1492.8L819.0,1492.9L816.0,1493.1L813.0,1493.2L810.0,1493.3L807.0,1493.4L804.0,1493.5L801.0,1493.5L798.0,1493.6L795.0,1493.6L792.0,1493.6L789.0,1493.6L786.0,1493.6L783.0,1493.5L780.0,1493.5L777.0,1493.4L774.0,1493.3L771.0,1493.2L768.0,1493.1L765.0,1492.9L762.0,1492.8L759.0,1492.6L756.0,1492.4L753.0,1492.2L750.0,1492.0L747.0,1491.7L744.0,1491.4L741.0,1491.2L738.0,1490.9L735.0,1490.5L732.0,1490.2L729.0,1489.8L726.0,1489.5L723.0,1489.1L720.0,1488.6L717.0,1488.2L714.1,1487.8L711.1,1487.3L708.1,1486.8L705.1,1486.3L702.2,1485.7L699.2,1485.2L696.2,1484.6L693.3,1484.0L690.3,1483.4L687.4,1482.8L684.5,1482.1L681.5,1481.4L678.6,1480.7L675.7,1480.0L672.7,1479.3L669.8,1478.5L666.9,1477.8L664.0,1477.0L661.1,1476.1L658.2,1475.3L655.4,1474.4L652.5,1473.5L649.6,1472.6L646.8,1471.7L643.9,1470.7L641.1,1469.7L638.2,1468.7L635.4,1467.7L632.6,1466.7L629.8,1465.6L627.0,1464.5L624.2,1463.4L621.4,1462.3L618.6,1461.1L615.9,1459.9L613.1,1458.7L610.4,1457.5L607.7,1456.2L604.9,1454.9L602.2,1453.6L599.5,1452.3L596.8,1450.9L594.2,1449.5L591.5,1448.1L588.9,1446.7L586.2,1445.3L583.6,1443.8L581.0,1442.3L578.4,1440.8L575.8,1439.2L573.2,1437.7L570.7,1436.1L568.1,1434.5L565.6,1432.8L563.1,1431.2L560.6,1429.5L558.1,1427.8L555.7,1426.1L553.2,1424.3L550.8,1422.6L548.4,1420.8L546.0,1419.0L543.7,1417.1L541.3,1415.3L539.0,1413.4L536.7,1411.5L534.4,1409.6L532.1,1407.6L529.8,1405.7L527.6,1403.7L525.4,1401.7L523.2,1399.6L521.1,1397.6L518.9,1395.5L516.8,1393.4L514.7,1391.3L512.6,1389.2L510.6,1387.0L508.5,1384.9L506.5,1382.7L504.5,1380.5L502.6,1378.2L500.6,1376.0L498.7,1373.7L496.9,1371.4L495.0,1369.1L493.1,1366.8L491.3,1364.4L489.5,1362.1L487.8,1359.7L486.0,1357.3L484.3,1354.9L482.5,1352.4L480.8,1350.0L479.2,1347.5L477.5,1345.1L475.9,1342.6L474.2,1340.1L472.6,1337.6L471.1,1335.0L469.5,1332.5L467.9,1329.9L466.4,1327.4L464.8,1324.8L463.3,1322.2L461.8,1319.6L460.4,1317.0L458.9,1314.4L457.4,1311.7L456.0,1309.1L454.5,1306.4L453.1,1303.8L451.7,1301.1L450.3,1298.4L448.9,1295.8L447.5,1293.1L446.1,1290.4L444.8,1287.7L443.4,1285.0L442.1,1282.3L440.7,1279.6L439.4,1276.8L438.1,1274.1L436.8,1271.4L435.4,1268.6L434.1,1265.9L432.8,1263.2L431.5,1260.4L430.3,1257.7L429.0,1254.9L427.7,1252.2L426.5,1249.4L425.2,1246.6L424.0,1243.9L422.8,1241.1L421.5,1238.3L420.3,1235.5L419.2,1232.7L418.0,1230.0L416.8,1227.2L415.7,1224.4L414.6,1221.6L413.4,1218.8L412.3,1215.9L411.3,1213.1L410.2,1210.3L409.1,1207.5L408.1,1204.7L407.1,1201.8L406.1,1199.0L405.1,1196.1L404.2,1193.3L403.2,1190.4L402.3,1187.6L401.4,1184.7L400.5,1181.8L399.7,1179.0L398.8,1176.1L398.0,1173.2L397.2,1170.3L396.5,1167.4L395.7,1164.5L395.0,1161.6L394.3,1158.7L393.7,1155.8L393.0,1152.9L392.4,1150.0L391.8,1147.1L391.2,1144.1L390.7,1141.2L390.2,1138.3L389.7,1135.3L389.2,1132.4L388.7,1129.4L388.3,1126.5L387.9,1123.5L387.5,1120.6L387.1,1117.6L386.8,1114.7L386.5,1111.7L386.2,1108.7L385.9,1105.7L385.6,1102.8L385.4,1099.8L385.2,1096.8L385.0,1093.8L384.8,1090.8L384.7,1087.9L384.6,1084.9L384.5,1081.9L384.4,1078.9L384.3,1075.9L384.3,1072.9L384.2,1069.9L384.2,1066.9L384.2,1063.9L384.3,1060.9L384.3,1057.9L384.4,1054.9L384.5,1051.9L384.6,1048.9L384.7,1045.9L384.8,1042.9L385.0,1039.9L385.2,1036.9L385.4,1033.9L385.6,1030.9L385.8,1027.9L386.1,1024.9L386.4,1021.9L386.6,1018.9L386.9,1015.9L387.3,1012.9L387.6,1009.9L387.9,1006.9L388.3,1004.0L388.7,1001.0L389.1,998.0L389.5,995.0L390.0,992.0L390.4,989.0L390.9,986.0L391.4,983.1L391.9,980.1L392.4,977.1L392.9,974.1L393.4,971.2L394.0,968.2L394.6,965.2L395.2,962.3L395.8,959.3L396.4,956.4L397.0,953.4L397.7,950.5L398.4,947.5L399.0,944.6L399.7,941.7L400.5,938.7L401.2,935.8L401.9,932.9L402.7,929.9L403.5,927.0L404.3,924.1L405.1,921.2L405.9,918.3L406.7,915.4L407.6,912.5L408.5,909.6L409.3,906.7L410.2,903.8L411.1,900.9L412.1,898.1L413.0,895.2L414.0,892.3L414.9,889.5L415.9,886.6L416.9,883.8L417.9,880.9L419.0,878.1L420.0,875.3L421.1,872.4L422.1,869.6L423.2,866.8L424.3,864.0L425.4,861.2L426.6,858.4L427.7,855.6L428.9,852.8L430.0,850.0L431.2,847.3L432.4,844.5L433.6,841.8L434.9,839.0L436.1,836.3L437.4,833.5L438.6,830.8L439.9,828.1L441.2,825.4L442.5,822.7L443.9,820.0L445.2,817.3L446.5,814.6L447.9,811.9L449.3,809.2L450.7,806.6L452.1,803.9L453.5,801.3L454.9,798.7L456.4,796.0L457.9,793.4L459.3,790.8L460.8,788.2L462.3,785.6L463.9,783.1L465.4,780.5L467.0,777.9L468.6,775.4L470.1,772.9L471.8,770.4L473.4,767.8L475.0,765.4L476.7,762.9L478.4,760.4L480.1,757.9L481.8,755.5L483.5,753.1L485.2,750.7L487.0,748.3L488.8,745.9L490.6,743.5L492.4,741.1L494.3,738.8L496.1,736.5L498.0,734.2L499.9,731.9L501.8,729.6L503.8,727.3L505.7,725.1L507.7,722.8L509.7,720.6L511.8,718.4L513.8,716.3L515.9,714.1L518.0,711.9L520.1,709.8L522.2,707.7L524.3,705.6L526.5,703.6L528.7,701.5L530.9,699.5L533.2,697.5L535.4,695.5L537.7,693.5L540.0,691.5L542.3,689.6L544.7,687.7L547.0,685.8L549.4,683.9L551.8,682.0L554.2,680.2L556.6,678.4L559.1,676.6L561.5,674.8L564.0,673.0L566.5,671.3L569.0,669.5L571.5,667.8L574.0,666.2L576.6,664.5L579.1,662.8L581.7,661.2L584.3,659.6L586.9,658.0L589.5,656.5L592.2,654.9L594.8,653.4L597.4,651.9L600.1,650.4L602.8,648.9L605.4,647.5L608.1,646.1L610.8,644.7L613.5,643.3L616.3,641.9L619.0,640.6L621.7,639.3L624.5,638.0L627.2,636.7L630.0,635.5L632.7,634.2L635.5,633.0L638.3,631.8L641.1,630.7Z" fill="#f18000"/>
<path d="M519.5,1101.5L517.2,1102.0L513.9,1101.6L510.7,1101.3L507.4,1101.1L504.2,1101.1L501.0,1101.1L497.7,1101.2L494.6,1101.4L491.4,1101.7L488.3,1102.2L485.2,1102.7L482.2,1103.3L479.2,1104.0L476.3,1104.9L473.4,1105.8L470.6,1106.8L467.8,1107.9L465.2,1109.2L462.5,1110.5L460.0,1111.9L457.6,1113.4L455.2,1115.0L452.9,1116.7L450.7,1118.5L448.6,1120.4L446.6,1122.4L444.7,1124.5L442.9,1126.7L441.2,1128.9L439.5,1131.2L438.0,1133.6L436.5,1136.0L435.1,1138.6L433.8,1141.1L432.6,1143.8L431.5,1146.5L430.5,1149.2L429.5,1152.0L428.6,1154.8L427.8,1157.6L427.1,1160.5L426.5,1163.5L425.9,1166.4L425.4,1169.4L425.0,1172.4L424.7,1175.4L424.4,1178.5L424.3,1181.5L424.1,1184.6L424.1,1187.7L424.1,1190.8L424.2,1193.9L424.4,1197.0L424.6,1200.1L424.8,1203.2L425.2,1206.3L425.6,1209.4L426.0,1212.5L426.6,1215.6L427.1,1218.7L427.7,1221.8L428.4,1224.8L429.1,1227.9L429.9,1230.9L430.7,1233.9L431.6,1236.9L432.5,1239.8L433.5,1242.7L434.5,1245.6L435.5,1248.5L436.6,1251.3L437.7,1254.1L438.9,1256.9L440.1,1259.6L441.3,1262.3L442.6,1265.0L443.9,1267.6L445.3,1270.3L446.6,1272.9L448.0,1275.5L449.5,1278.0L450.9,1280.6L452.4,1283.1L454.0,1285.6L455.5,1288.1L457.1,1290.5L458.7,1293.0L460.4,1295.4L462.0,1297.9L463.7,1300.3L465.4,1302.7L467.1,1305.1L468.9,1307.5L470.6,1309.9L472.4,1312.3L474.2,1314.6L476.0,1317.0L477.9,1319.4L479.7,1321.7L481.6,1324.1L483.5,1326.4L485.4,1328.7L487.3,1331.1L489.2,1333.4L491.2,1335.7L493.1,1338.0L495.1,1340.3L497.1,1342.6L499.1,1344.9L501.1,1347.2L503.2,1349.4L505.2,1351.7L507.3,1353.9L509.3,1356.2L511.4,1358.4L513.5,1360.6L515.6,1362.8L517.7,1365.0L519.9,1367.2L522.0,1369.3L524.1,1371.5L526.3,1373.6L528.5,1375.8L530.6,1377.9L532.8,1380.0L535.0,1382.1L537.2,1384.2L539.4,1386.2L541.6,1388.3L543.9,1390.3L546.1,1392.3L548.3,1394.3L550.6,1396.3L552.9,1398.3L555.2,1400.2L557.5,1402.1L559.8,1404.0L562.1,1405.9L564.4,1407.8L566.8,1409.6L569.2,1411.4L571.5,1413.2L573.9,1415.0L576.4,1416.7L578.8,1418.4L581.2,1420.1L583.7,1421.7L586.2,1423.3L588.7,1424.9L591.2,1426.5L593.8,1428.0L596.3,1429.5L598.9,1430.9L601.5,1432.4L604.2,1433.7L606.8,1435.1L609.5,1436.4L612.2,1437.7L614.9,1438.9L617.6,1440.1L620.4,1441.3L623.2,1442.5L625.9,1443.6L628.8,1444.7L631.6,1445.7L634.4,1446.8L637.3,1447.8L640.1,1448.8L643.0,1449.7L645.9,1450.7L648.8,1451.6L651.7,1452.5L654.6,1453.4L657.5,1454.3L660.4,1455.2L663.3,1456.1L666.2,1456.9L669.1,1457.8L672.1,1458.6L675.0,1459.4L677.9,1460.2L680.8,1461.0L683.8,1461.8L686.7,1462.6L689.6,1463.3L692.6,1464.1L695.5,1464.8L698.5,1465.5L701.4,1466.2L704.4,1466.9L707.3,1467.5L710.3,1468.2L713.2,1468.8L716.2,1469.4L719.2,1470.0L722.1,1470.6L725.1,1471.1L728.0,1471.6L731.0,1472.2L734.0,1472.6L737.0,1473.1L739.9,1473.6L742.9,1474.0L745.9,1474.4L748.9,1474.8L751.8,1475.1L754.8,1475.4L757.8,1475.8L760.8,1476.0L763.8,1476.3L766.8,1476.5L769.8,1476.7L772.8,1476.9L775.8,1477.1L778.7,1477.2L781.7,1477.3L784.7,1477.4L787.7,1477.5L790.7,1477.5L793.7,1477.5L796.7,1477.5L799.7,1477.4L802.7,1477.3L805.7,1477.2L808.7,1477.1L811.7,1477.0L814.7,1476.8L817.6,1476.6L820.6,1476.4L823.6,1476.1L826.6,1475.9L829.6,1475.6L832.6,1475.3L835.6,1474.9L838.5,1474.6L841.5,1474.2L844.5,1473.8L847.5,1473.4L850.4,1472.9L853.4,1472.5L856.4,1472.0L859.4,1471.5L862.3,1471.0L865.3,1470.4L868.2,1469.9L871.2,1469.3L874.2,1468.7L877.1,1468.1L880.1,1467.5L883.0,1466.9L886.0,1466.2L888.9,1465.5L891.8,1464.8L894.8,1464.2L897.7,1463.4L900.6,1462.7L903.6,1462.0L906.5,1461.2L909.4,1460.5L912.3,1459.7L915.3,1458.9L918.2,1458.1L921.1,1457.3L924.0,1456.5L926.9,1455.7L929.8,1454.8L932.7,1454.0L935.6,1453.1L938.4,1452.2L941.3,1451.4L944.2,1450.5L947.1,1449.6L949.9,1448.6L952.8,1447.7L955.7,1446.8L958.5,1445.8L961.4,1444.9L964.2,1443.9L967.1,1442.9L969.9,1442.0L972.8,1441.0L975.6,1440.0L978.4,1438.9L981.3,1437.9L984.1,1436.9L986.9,1435.8L989.7,1434.8L992.5,1433.7L995.4,1432.6L998.2,1431.6L1001.0,1430.5L1003.8,1429.4L1006.6,1428.2L1009.3,1427.1L1012.1,1426.0L1014.9,1424.8L1017.7,1423.7L1020.5,1422.5L1023.2,1421.4L1026.0,1420.2L1028.8,1419.0L1031.5,1417.8L1034.3,1416.6L1037.0,1415.4L1039.8,1414.2L1042.5,1412.9L1045.3,1411.7L1048.0,1410.4L1050.7,1409.2L1053.4,1407.9L1056.2,1406.6L1058.9,1405.3L1061.6,1404.0L1064.3,1402.7L1067.0,1401.4L1069.7,1400.1L1072.4,1398.8L1075.1,1397.4L1077.8,1396.1L1080.5,1394.7L1083.2,1393.4L1085.8,1392.0L1088.5,1390.6L1091.2,1389.2L1093.8,1387.9L1096.5,1386.4L1099.2,1385.0L1101.8,1383.6L1104.5,1382.2L1107.1,1380.7L1109.7,1379.3L1112.3,1377.8L1115.0,1376.4L1117.6,1374.9L1120.2,1373.4L1122.7,1371.8L1125.3,1370.3L1127.9,1368.7L1130.4,1367.2L1133.0,1365.6L1135.5,1364.0L1138.0,1362.3L1140.4,1360.7L1142.9,1359.0L1145.4,1357.3L1147.8,1355.6L1150.2,1353.8L1152.6,1352.1L1155.0,1350.3L1157.3,1348.5L1159.6,1346.6L1161.9,1344.7L1164.2,1342.8L1166.5,1340.9L1168.7,1339.0L1171.0,1337.0L1173.2,1335.0L1175.4,1333.0L1177.6,1330.9L1179.7,1328.8L1181.9,1326.7L1184.0,1324.6L1186.1,1322.5L1188.2,1320.3L1190.3,1318.1L1192.4,1315.9L1194.4,1313.7L1196.5,1311.5L1198.5,1309.2L1200.6,1306.9L1202.6,1304.6L1204.6,1302.3L1206.6,1299.9L1208.5,1297.5L1210.5,1295.1L1212.4,1292.7L1214.3,1290.3L1216.1,1287.8L1217.9,1285.3L1219.7,1282.7L1221.4,1280.2L1223.1,1277.6L1224.7,1275.0L1226.3,1272.3L1227.9,1269.6L1229.3,1266.9L1230.7,1264.1L1232.1,1261.4L1233.4,1258.6L1234.6,1255.8L1235.7,1253.0L1236.8,1250.1L1237.8,1247.3L1238.8,1244.4L1239.6,1241.5L1240.4,1238.6L1241.1,1235.8L1241.7,1232.9L1242.2,1230.0L1242.7,1227.1L1243.0,1224.2L1243.3,1221.3L1243.4,1218.4L1243.5,1215.6L1243.5,1212.7L1243.4,1209.9L1243.1,1207.0L1242.8,1204.2L1242.4,1201.4L1241.8,1198.7L1241.2,1195.9L1240.4,1193.2L1239.5,1190.5L1238.5,1187.8L1237.4,1185.2L1236.1,1182.6L1234.8,1180.1L1233.3,1177.5L1231.7,1175.0L1229.9,1172.6L1228.1,1170.2L1226.2,1167.9L1224.1,1165.6L1222.0,1163.3L1219.8,1161.1L1217.5,1159.0L1215.1,1156.9L1212.7,1154.9L1210.2,1152.9L1207.6,1151.0L1205.0,1149.2L1202.3,1147.4L1199.6,1145.7L1196.8,1144.1L1194.1,1142.5L1191.3,1141.0L1188.4,1139.7L1185.6,1138.3L1182.7,1137.1L1179.9,1136.0L1177.0,1134.9L1174.2,1134.0L1171.4,1133.1L1168.6,1132.3L1165.8,1131.6L1163.0,1131.0L1160.3,1130.5L1157.6,1129.6L1157.6,1129.6L1140.0,1110.0L540.0,1090.0L519.5,1101.5Z" fill="#fee5c9"/>
<path d="M530.0,1095.0L518.0,1102.5L517.0,1136.0L530.0,1250.0L570.0,1350.0L600.6,1370.0L600.6,1370.0L602.9,1371.9L605.2,1374.0L607.5,1376.0L609.8,1378.1L612.1,1380.1L614.4,1382.1L616.8,1384.1L619.1,1386.0L621.5,1388.0L623.9,1389.9L626.3,1391.8L628.8,1393.6L631.2,1395.4L633.7,1397.2L636.2,1398.9L638.8,1400.6L641.3,1402.2L643.9,1403.7L646.5,1405.3L649.2,1406.7L651.8,1408.1L654.5,1409.4L657.3,1410.6L660.0,1411.8L662.8,1412.9L665.6,1413.9L668.5,1414.9L671.4,1415.8L674.3,1416.7L677.2,1417.5L680.1,1418.3L683.1,1419.1L686.0,1419.9L689.0,1420.7L691.9,1421.4L694.9,1422.2L697.8,1423.1L700.8,1423.9L703.7,1424.8L706.6,1425.8L709.5,1426.8L712.4,1427.8L715.3,1428.8L718.1,1429.9L721.0,1431.0L723.8,1432.1L726.7,1433.2L729.5,1434.4L732.3,1435.5L735.2,1436.6L738.0,1437.7L740.8,1438.8L743.6,1439.9L746.4,1440.9L749.3,1441.9L752.1,1442.8L754.9,1443.7L757.8,1444.5L760.7,1445.1L763.6,1445.7L766.5,1446.2L769.4,1446.7L772.4,1447.0L775.4,1447.3L778.3,1447.5L781.3,1447.6L784.3,1447.7L787.4,1447.7L790.4,1447.7L793.4,1447.6L796.5,1447.6L799.5,1447.5L802.6,1447.3L805.6,1447.2L808.7,1447.0L811.7,1446.9L814.8,1446.7L817.8,1446.5L820.9,1446.3L824.0,1446.1L827.0,1445.8L830.1,1445.5L833.1,1445.3L836.2,1445.0L839.2,1444.7L842.3,1444.4L845.3,1444.0L848.4,1443.6L851.4,1443.3L854.5,1442.9L857.5,1442.5L860.5,1442.0L863.5,1441.6L866.6,1441.1L869.6,1440.6L872.6,1440.1L875.6,1439.6L878.6,1439.0L881.5,1438.4L884.5,1437.8L887.5,1437.2L890.5,1436.6L893.4,1435.9L896.3,1435.2L899.3,1434.5L902.2,1433.8L905.2,1433.1L908.1,1432.4L911.0,1431.8L914.0,1431.1L916.9,1430.4L919.9,1429.8L922.9,1429.2L925.9,1428.6L928.9,1428.0L931.9,1427.5L934.9,1427.1L938.0,1426.6L941.1,1426.3L944.2,1426.0L947.3,1425.7L950.4,1425.4L953.5,1425.2L956.6,1424.9L959.7,1424.6L962.8,1424.3L965.8,1424.0L968.9,1423.6L971.9,1423.1L974.8,1422.6L977.7,1421.9L980.6,1421.2L983.4,1420.4L986.1,1419.4L988.8,1418.3L991.4,1417.0L993.9,1415.6L996.4,1414.1L998.8,1412.5L1001.1,1410.8L1003.5,1409.1L1005.8,1407.2L1008.0,1405.3L1010.2,1403.3L1012.5,1401.2L1014.6,1399.1L1016.8,1397.0L1019.0,1394.9L1021.2,1392.7L1023.3,1390.5L1025.5,1388.4L1027.7,1386.3L1030.0,1384.1L1032.2,1382.1L1034.5,1380.0L1036.8,1378.1L1039.2,1376.2L1041.6,1374.4L1044.1,1372.6L1046.6,1371.1L1049.3,1369.6L1052.0,1368.3L1055.2,1367.6L1055.2,1367.6L1100.0,1300.0L1150.0,1200.0L1160.6,1160.0L1160.6,1131.0L1150.0,1110.0L540.0,1090.0L530.0,1095.0Z" fill="#edf0d3"/>
<path d="M519.5,1101.5L519.6,1098.1L519.9,1095.2L520.3,1092.3L520.7,1089.4L521.1,1086.5L521.5,1083.6L522.0,1080.7L522.5,1077.8L523.0,1074.9L523.5,1072.0L524.1,1069.1L524.7,1066.1L525.3,1063.2L525.9,1060.3L526.6,1057.4L527.2,1054.5L527.9,1051.6L528.7,1048.7L529.4,1045.8L530.2,1042.9L531.0,1040.0L531.8,1037.1L532.7,1034.2L533.6,1031.3L534.4,1028.5L535.4,1025.6L536.3,1022.7L537.3,1019.8L538.2,1017.0L539.2,1014.1L540.3,1011.2L541.3,1008.4L542.4,1005.5L543.5,1002.7L544.6,999.8L545.7,997.0L546.9,994.2L548.0,991.3L549.2,988.5L550.5,985.7L551.7,982.9L553.0,980.1L554.2,977.3L555.5,974.6L556.9,971.8L558.2,969.1L559.6,966.3L561.0,963.6L562.4,960.9L563.9,958.2L565.3,955.5L566.8,952.8L568.3,950.2L569.8,947.5L571.4,944.9L573.0,942.3L574.6,939.7L576.2,937.1L577.8,934.5L579.5,932.0L581.2,929.4L582.9,926.9L584.6,924.4L586.4,922.0L588.2,919.5L590.0,917.1L591.8,914.6L593.7,912.3L595.6,909.9L597.5,907.5L599.4,905.2L601.3,902.9L603.3,900.6L605.3,898.3L607.3,896.1L609.4,893.9L611.4,891.7L613.5,889.5L615.6,887.4L617.8,885.3L619.9,883.2L622.1,881.1L624.3,879.1L626.5,877.1L628.8,875.1L631.0,873.1L633.3,871.2L635.6,869.3L638.0,867.4L640.3,865.5L642.7,863.7L645.1,861.9L647.5,860.2L649.9,858.4L652.3,856.7L654.8,855.1L657.3,853.4L659.8,851.8L662.3,850.2L664.8,848.7L667.4,847.1L670.0,845.6L672.5,844.2L675.1,842.8L677.8,841.4L680.4,840.0L683.1,838.7L685.7,837.4L688.4,836.1L691.1,834.9L693.8,833.7L696.6,832.5L699.3,831.4L702.1,830.3L704.8,829.2L707.6,828.2L710.4,827.2L713.2,826.3L716.1,825.3L718.9,824.4L721.8,823.5L724.6,822.7L727.5,821.9L730.4,821.1L733.3,820.4L736.2,819.6L739.1,818.9L742.0,818.3L745.0,817.6L747.9,817.0L750.9,816.4L753.8,815.8L756.8,815.3L759.8,814.7L762.8,814.2L765.8,813.7L768.8,813.3L771.8,812.8L774.8,812.4L777.8,812.0L780.8,811.6L783.9,811.3L786.9,810.9L789.9,810.6L793.0,810.3L796.0,810.0L799.1,809.7L802.1,809.4L805.2,809.2L808.3,809.0L811.3,808.7L814.4,808.5L817.5,808.4L820.5,808.2L823.6,808.0L826.7,807.9L829.8,807.8L832.8,807.7L835.9,807.6L839.0,807.5L842.1,807.5L845.1,807.4L848.2,807.4L851.3,807.4L854.4,807.5L857.5,807.5L860.5,807.6L863.6,807.7L866.7,807.8L869.7,807.9L872.8,808.0L875.9,808.2L878.9,808.4L882.0,808.6L885.1,808.8L888.1,809.0L891.2,809.3L894.2,809.6L897.2,809.9L900.3,810.2L903.3,810.6L906.3,810.9L909.4,811.3L912.4,811.8L915.4,812.2L918.4,812.7L921.4,813.2L924.4,813.7L927.4,814.2L930.4,814.8L933.4,815.3L936.3,815.9L939.3,816.6L942.2,817.2L945.2,817.9L948.1,818.6L951.1,819.3L954.0,820.1L956.9,820.9L959.8,821.7L962.7,822.5L965.6,823.4L968.5,824.2L971.3,825.2L974.2,826.1L977.0,827.1L979.9,828.1L982.7,829.1L985.5,830.1L988.3,831.2L991.1,832.3L993.9,833.4L996.7,834.6L999.4,835.8L1002.2,837.0L1004.9,838.2L1007.6,839.5L1010.3,840.8L1013.0,842.1L1015.7,843.5L1018.3,844.9L1021.0,846.3L1023.6,847.7L1026.2,849.2L1028.8,850.7L1031.4,852.2L1033.9,853.8L1036.5,855.4L1039.0,857.0L1041.5,858.7L1044.0,860.3L1046.4,862.0L1048.9,863.7L1051.3,865.5L1053.7,867.3L1056.0,869.1L1058.4,870.9L1060.7,872.8L1063.0,874.7L1065.3,876.6L1067.5,878.6L1069.8,880.5L1072.0,882.5L1074.1,884.6L1076.3,886.6L1078.4,888.7L1080.5,890.8L1082.5,893.0L1084.6,895.1L1086.5,897.3L1088.5,899.5L1090.5,901.8L1092.4,904.1L1094.2,906.4L1096.1,908.7L1097.9,911.0L1099.7,913.4L1101.4,915.8L1103.1,918.3L1104.8,920.7L1106.4,923.2L1108.0,925.7L1109.6,928.2L1111.1,930.8L1112.7,933.4L1114.1,936.0L1115.6,938.6L1117.0,941.2L1118.4,943.9L1119.7,946.6L1121.1,949.3L1122.4,952.0L1123.6,954.8L1124.9,957.5L1126.1,960.3L1127.3,963.1L1128.4,965.9L1129.5,968.7L1130.6,971.6L1131.7,974.4L1132.7,977.3L1133.8,980.2L1134.7,983.1L1135.7,986.0L1136.6,988.9L1137.6,991.8L1138.4,994.8L1139.3,997.7L1140.2,1000.7L1141.0,1003.6L1141.8,1006.6L1142.5,1009.6L1143.3,1012.6L1144.0,1015.6L1144.7,1018.6L1145.4,1021.6L1146.0,1024.6L1146.7,1027.6L1147.3,1030.7L1147.9,1033.7L1148.4,1036.7L1149.0,1039.7L1149.5,1042.8L1150.0,1045.8L1150.5,1048.9L1151.0,1051.9L1151.5,1054.9L1151.9,1058.0L1152.3,1061.0L1152.7,1064.0L1153.1,1067.0L1153.5,1070.1L1153.8,1073.1L1154.2,1076.1L1154.5,1079.1L1154.8,1082.1L1155.1,1085.1L1155.4,1088.1L1155.6,1091.1L1155.9,1094.1L1156.1,1097.0L1156.3,1100.0L1156.5,1102.9L1156.7,1105.9L1156.9,1108.8L1157.0,1111.7L1157.2,1114.6L1157.3,1117.5L1157.5,1120.4L1157.6,1123.3L1157.7,1126.1L1157.6,1129.6L1157.6,1129.6L1154.5,1129.6L1151.3,1129.7L1148.2,1130.0L1145.2,1130.3L1142.2,1130.8L1139.2,1131.3L1136.3,1132.0L1133.4,1132.7L1130.6,1133.5L1127.8,1134.3L1125.0,1135.3L1122.2,1136.3L1119.5,1137.4L1116.8,1138.5L1114.1,1139.7L1111.4,1140.9L1108.7,1142.2L1106.1,1143.6L1103.4,1145.0L1100.7,1146.4L1098.1,1147.8L1095.4,1149.3L1092.8,1150.8L1090.1,1152.3L1087.4,1153.9L1084.7,1155.4L1082.0,1157.0L1079.2,1158.5L1076.5,1160.1L1073.7,1161.6L1071.0,1163.1L1068.2,1164.6L1065.4,1166.0L1062.6,1167.4L1059.7,1168.7L1056.9,1169.9L1054.1,1171.1L1051.3,1172.1L1048.5,1173.1L1045.6,1173.9L1042.8,1174.6L1040.0,1175.2L1037.2,1175.6L1034.3,1175.9L1031.5,1176.1L1028.7,1176.0L1026.0,1175.8L1023.2,1175.4L1020.4,1174.9L1017.7,1174.2L1014.9,1173.3L1012.2,1172.3L1009.5,1171.2L1006.7,1169.9L1004.0,1168.6L1001.3,1167.2L998.6,1165.7L995.9,1164.2L993.3,1162.6L990.6,1161.0L987.9,1159.3L985.3,1157.7L982.6,1156.1L980.0,1154.4L977.3,1152.8L974.7,1151.2L972.0,1149.7L969.4,1148.1L966.7,1146.6L964.1,1145.1L961.4,1143.6L958.7,1142.2L956.0,1140.8L953.4,1139.4L950.6,1138.1L947.9,1136.8L945.2,1135.5L942.4,1134.3L939.7,1133.1L936.9,1132.0L934.1,1130.9L931.3,1129.8L928.4,1128.8L925.6,1127.8L922.7,1126.8L919.9,1125.9L917.0,1125.0L914.1,1124.1L911.2,1123.3L908.3,1122.5L905.4,1121.7L902.4,1121.0L899.5,1120.3L896.5,1119.6L893.6,1119.0L890.6,1118.4L887.6,1117.8L884.6,1117.3L881.6,1116.7L878.6,1116.3L875.6,1115.8L872.6,1115.4L869.6,1114.9L866.6,1114.6L863.6,1114.2L860.5,1113.9L857.5,1113.6L854.5,1113.3L851.5,1113.0L848.4,1112.8L845.4,1112.5L842.3,1112.4L839.3,1112.2L836.3,1112.0L833.2,1111.9L830.2,1111.8L827.2,1111.7L824.1,1111.6L821.1,1111.6L818.1,1111.6L815.0,1111.6L812.0,1111.6L809.0,1111.7L805.9,1111.7L802.9,1111.8L799.9,1111.9L796.9,1112.1L793.9,1112.2L790.8,1112.4L787.8,1112.6L784.8,1112.9L781.8,1113.1L778.8,1113.4L775.8,1113.7L772.8,1114.1L769.8,1114.4L766.8,1114.8L763.8,1115.2L760.8,1115.7L757.8,1116.2L754.9,1116.6L751.9,1117.2L748.9,1117.7L746.0,1118.3L743.0,1118.9L740.0,1119.5L737.1,1120.1L734.2,1120.8L731.2,1121.5L728.3,1122.3L725.4,1123.0L722.4,1123.8L719.5,1124.6L716.6,1125.5L713.7,1126.4L710.8,1127.3L707.9,1128.2L705.0,1129.2L702.1,1130.2L699.3,1131.3L696.4,1132.4L693.5,1133.5L690.7,1134.7L687.8,1135.9L685.0,1137.2L682.1,1138.5L679.3,1139.8L676.5,1141.2L673.6,1142.5L670.8,1143.9L668.0,1145.2L665.2,1146.5L662.4,1147.7L659.6,1148.9L656.8,1149.9L654.0,1150.9L651.3,1151.7L648.5,1152.4L645.7,1152.9L643.0,1153.3L640.3,1153.6L637.5,1153.8L634.8,1153.8L632.1,1153.6L629.5,1153.3L626.8,1152.8L624.1,1152.2L621.5,1151.4L618.9,1150.5L616.3,1149.4L613.7,1148.1L611.2,1146.8L608.6,1145.3L606.1,1143.6L603.5,1141.9L601.0,1140.2L598.5,1138.3L596.0,1136.4L593.4,1134.5L590.9,1132.6L588.4,1130.6L585.9,1128.6L583.3,1126.7L580.8,1124.8L578.2,1122.9L575.7,1121.1L573.1,1119.4L570.5,1117.7L567.8,1116.1L565.2,1114.6L562.5,1113.2L559.9,1111.8L557.2,1110.6L554.4,1109.4L551.7,1108.3L548.9,1107.3L546.1,1106.3L543.3,1105.5L540.4,1104.7L537.5,1104.1L534.6,1103.5L531.6,1103.0L528.6,1102.6L525.6,1102.3L522.5,1102.1L519.5,1101.5Z" fill="#a3b812"/>
<path d="M457.8,1247.4L457.0,1244.4L456.1,1241.3L455.4,1238.3L454.7,1235.2L454.0,1232.0L453.5,1228.9L453.0,1225.7L452.5,1222.5L452.2,1219.3L451.9,1216.1L451.7,1212.9L451.5,1209.7L451.5,1206.5L451.5,1203.3L451.6,1200.2L451.8,1197.0L452.0,1193.9L452.4,1190.9L452.8,1187.9L453.4,1184.9L454.0,1182.0L454.7,1179.1L455.6,1176.3L456.5,1173.5L457.5,1170.8L458.6,1168.2L459.9,1165.7L461.2,1163.2L462.6,1160.9L464.2,1158.6L465.8,1156.4L467.6,1154.4L469.5,1152.4L471.5,1150.6L473.6,1148.8L475.9,1147.2L478.2,1145.7L480.6,1144.4L483.2,1143.1L485.8,1141.9L488.5,1140.9L491.2,1139.9L494.1,1139.1L497.0,1138.3L499.9,1137.7L502.9,1137.2L506.0,1136.7L509.0,1136.4L512.1,1136.2L515.3,1136.0L518.4,1136.0L521.6,1136.1L524.7,1136.2L527.9,1136.4L531.1,1136.8L534.2,1137.2L537.3,1137.7L540.4,1138.3L543.5,1139.0L546.5,1139.8L549.5,1140.6L552.4,1141.5L555.3,1142.5L558.1,1143.6L560.9,1144.8L563.6,1146.0L566.3,1147.4L568.9,1148.7L571.5,1150.2L574.0,1151.7L576.5,1153.3L578.9,1155.0L581.3,1156.7L583.6,1158.5L585.8,1160.4L588.1,1162.3L590.2,1164.2L592.4,1166.3L594.5,1168.3L596.5,1170.5L598.5,1172.7L600.5,1174.9L602.4,1177.2L604.2,1179.5L606.1,1181.9L607.8,1184.3L609.6,1186.8L611.3,1189.3L612.9,1191.8L614.5,1194.4L616.1,1197.0L617.7,1199.7L619.2,1202.4L620.6,1205.1L622.0,1207.8L623.4,1210.6L624.8,1213.4L626.1,1216.2L627.4,1219.1L628.6,1222.0L629.8,1224.9L631.0,1227.8L632.1,1230.7L633.3,1233.6L634.3,1236.6L635.4,1239.6L636.4,1242.6L637.4,1245.5L638.3,1248.5L639.2,1251.6L640.1,1254.6L640.9,1257.6L641.7,1260.6L642.4,1263.6L643.1,1266.6L643.7,1269.6L644.3,1272.6L644.8,1275.6L645.3,1278.6L645.6,1281.6L645.9,1284.6L646.2,1287.6L646.3,1290.5L646.4,1293.5L646.4,1296.4L646.3,1299.3L646.1,1302.2L645.8,1305.0L645.4,1307.9L644.9,1310.7L644.4,1313.5L643.7,1316.2L642.9,1319.0L642.0,1321.7L640.9,1324.3L639.8,1327.0L638.5,1329.6L637.1,1332.1L635.6,1334.7L634.0,1337.1L632.3,1339.5L630.5,1341.9L628.6,1344.2L626.5,1346.5L624.4,1348.6L622.2,1350.7L620.0,1352.7L617.6,1354.7L615.2,1356.5L612.7,1358.2L610.1,1359.9L607.5,1361.4L604.8,1362.9L602.0,1364.2L599.2,1365.4L596.4,1366.5L593.5,1367.5L590.6,1368.3L587.6,1369.1L584.6,1369.7L581.6,1370.2L578.6,1370.5L575.6,1370.8L572.5,1370.9L569.5,1370.9L566.4,1370.8L563.4,1370.6L560.4,1370.2L557.3,1369.8L554.3,1369.3L551.4,1368.6L548.4,1367.8L545.5,1367.0L542.7,1366.0L539.8,1364.9L537.1,1363.7L534.4,1362.4L531.7,1361.1L529.1,1359.6L526.6,1358.0L524.1,1356.3L521.8,1354.6L519.5,1352.7L517.3,1350.8L515.1,1348.8L513.1,1346.7L511.1,1344.5L509.1,1342.2L507.2,1339.9L505.4,1337.6L503.6,1335.2L501.9,1332.7L500.2,1330.2L498.6,1327.6L497.0,1325.1L495.4,1322.5L493.9,1319.8L492.3,1317.2L490.8,1314.5L489.4,1311.9L487.9,1309.2L486.4,1306.6L485.0,1303.9L483.5,1301.3L482.0,1298.6L480.6,1296.0L479.1,1293.4L477.7,1290.8L476.2,1288.2L474.8,1285.6L473.4,1283.0L472.0,1280.4L470.6,1277.8L469.3,1275.1L468.0,1272.5L466.7,1269.8L465.4,1267.1L464.2,1264.4L463.0,1261.6L461.9,1258.9L460.8,1256.1L459.8,1253.2L458.8,1250.3L457.8,1247.4Z" fill="#8e8e8e"/>
<path d="M1018.3,1245.2L1020.0,1242.7L1021.8,1240.3L1023.6,1237.9L1025.5,1235.5L1027.4,1233.2L1029.4,1231.0L1031.5,1228.8L1033.5,1226.6L1035.7,1224.5L1037.8,1222.3L1040.0,1220.2L1042.2,1218.2L1044.4,1216.2L1046.6,1214.1L1048.9,1212.1L1051.1,1210.2L1053.4,1208.2L1055.7,1206.2L1057.9,1204.3L1060.2,1202.4L1062.6,1200.5L1064.9,1198.6L1067.2,1196.7L1069.6,1194.8L1072.0,1192.9L1074.4,1191.1L1076.8,1189.2L1079.3,1187.3L1081.8,1185.5L1084.3,1183.7L1086.8,1181.8L1089.3,1180.0L1091.9,1178.3L1094.5,1176.6L1097.1,1174.9L1099.7,1173.2L1102.4,1171.7L1105.1,1170.1L1107.8,1168.7L1110.5,1167.3L1113.2,1166.0L1116.0,1164.7L1118.8,1163.6L1121.7,1162.5L1124.5,1161.5L1127.4,1160.7L1130.3,1159.9L1133.2,1159.3L1136.2,1158.7L1139.2,1158.3L1142.2,1158.0L1145.2,1157.8L1148.2,1157.8L1151.2,1157.8L1154.3,1158.0L1157.3,1158.2L1160.3,1158.6L1163.4,1159.0L1166.4,1159.6L1169.4,1160.2L1172.4,1161.0L1175.4,1161.8L1178.3,1162.7L1181.2,1163.8L1184.1,1164.9L1187.0,1166.0L1189.8,1167.3L1192.5,1168.7L1195.2,1170.1L1197.9,1171.6L1200.5,1173.1L1203.1,1174.8L1205.6,1176.5L1208.0,1178.3L1210.4,1180.1L1212.7,1182.0L1214.9,1184.0L1217.0,1186.0L1219.1,1188.1L1221.0,1190.2L1222.9,1192.4L1224.7,1194.6L1226.3,1196.9L1227.9,1199.2L1229.4,1201.6L1230.8,1204.0L1232.0,1206.4L1233.1,1208.9L1234.1,1211.4L1235.0,1214.0L1235.8,1216.5L1236.4,1219.1L1236.9,1221.7L1237.3,1224.4L1237.5,1227.1L1237.5,1229.7L1237.4,1232.4L1237.2,1235.2L1236.8,1237.9L1236.3,1240.6L1235.6,1243.4L1234.9,1246.1L1233.9,1248.9L1232.9,1251.7L1231.8,1254.4L1230.5,1257.2L1229.2,1260.0L1227.7,1262.7L1226.1,1265.5L1224.5,1268.2L1222.8,1270.9L1221.0,1273.7L1219.1,1276.4L1217.2,1279.1L1215.2,1281.7L1213.2,1284.4L1211.1,1287.0L1208.9,1289.6L1206.7,1292.2L1204.5,1294.8L1202.3,1297.3L1200.0,1299.8L1197.7,1302.3L1195.4,1304.7L1193.1,1307.1L1190.8,1309.5L1188.5,1311.8L1186.2,1314.1L1183.9,1316.3L1181.7,1318.5L1179.4,1320.7L1177.2,1322.8L1175.0,1324.8L1172.8,1326.8L1170.6,1328.8L1168.4,1330.7L1166.2,1332.6L1163.9,1334.5L1161.7,1336.3L1159.4,1338.1L1157.1,1339.8L1154.7,1341.5L1152.3,1343.2L1149.9,1344.9L1147.4,1346.5L1144.9,1348.1L1142.3,1349.6L1139.8,1351.1L1137.1,1352.5L1134.5,1353.9L1131.8,1355.3L1129.1,1356.5L1126.3,1357.8L1123.6,1358.9L1120.8,1360.1L1118.0,1361.1L1115.2,1362.1L1112.3,1363.0L1109.5,1363.8L1106.6,1364.6L1103.7,1365.2L1100.8,1365.8L1097.9,1366.3L1095.0,1366.8L1092.1,1367.1L1089.2,1367.3L1086.3,1367.5L1083.4,1367.6L1080.5,1367.5L1077.6,1367.4L1074.7,1367.1L1071.8,1366.8L1068.9,1366.3L1066.0,1365.7L1063.1,1365.0L1060.3,1364.2L1057.5,1363.3L1054.7,1362.2L1051.9,1361.0L1049.1,1359.8L1046.4,1358.3L1043.7,1356.8L1041.1,1355.2L1038.5,1353.5L1035.9,1351.7L1033.4,1349.8L1031.0,1347.8L1028.6,1345.7L1026.4,1343.5L1024.1,1341.3L1022.0,1339.0L1020.0,1336.6L1018.0,1334.1L1016.2,1331.6L1014.4,1329.1L1012.8,1326.5L1011.2,1323.8L1009.8,1321.1L1008.5,1318.4L1007.3,1315.6L1006.3,1312.8L1005.4,1309.9L1004.6,1307.1L1004.0,1304.2L1003.5,1301.3L1003.2,1298.4L1003.0,1295.5L1002.9,1292.6L1003.0,1289.7L1003.1,1286.7L1003.4,1283.8L1003.8,1280.9L1004.4,1278.0L1005.0,1275.1L1005.7,1272.3L1006.6,1269.4L1007.5,1266.6L1008.5,1263.8L1009.7,1261.0L1010.9,1258.3L1012.2,1255.6L1013.6,1252.9L1015.1,1250.3L1016.7,1247.7L1018.3,1245.2Z" fill="#8e8e8e"/>
<ellipse cx="0" cy="0" rx="85" ry="41" fill="#8e8e8e" transform="translate(819 1297) rotate(0)"/>
<ellipse cx="0" cy="0" rx="88" ry="42" fill="#8e8e8e" transform="translate(721 1375) rotate(0)"/>
<ellipse cx="0" cy="0" rx="101" ry="44" fill="#8e8e8e" transform="translate(929 1380) rotate(0)"/>
<path d="M929.6,518.7L929.5,522.2L929.0,525.0L928.4,527.7L927.4,530.2L926.1,532.6L924.6,534.9L922.9,537.2L920.8,539.3L918.5,541.4L915.9,543.4L913.1,545.3L910.0,547.1L906.7,548.8L903.1,550.5L899.3,552.1L895.3,553.5L891.0,554.9L886.6,556.2L881.9,557.4L877.0,558.5L871.8,559.5L866.5,560.4L860.9,561.2L855.2,561.9L849.2,562.5L843.0,562.9L836.5,563.3L829.6,563.6L822.2,563.7L813.3,563.8L804.4,563.7L797.0,563.6L790.1,563.3L783.6,562.9L777.4,562.5L771.4,561.9L765.7,561.2L760.1,560.4L754.8,559.5L749.6,558.5L744.7,557.4L740.0,556.2L735.6,554.9L731.3,553.5L727.3,552.1L723.5,550.5L719.9,548.8L716.6,547.1L713.5,545.3L710.7,543.4L708.1,541.4L705.8,539.3L703.7,537.2L702.0,534.9L700.5,532.6L699.2,530.2L698.2,527.7L697.6,525.0L697.1,522.2L697.0,518.7L697.1,515.2L697.6,512.4L698.2,509.7L699.2,507.2L700.5,504.8L702.0,502.5L703.7,500.2L705.8,498.1L708.1,496.0L710.7,494.0L713.5,492.1L716.6,490.3L719.9,488.6L723.5,486.9L727.3,485.3L731.3,483.9L735.6,482.5L740.0,481.2L744.7,480.0L749.6,478.9L754.8,477.9L760.1,477.0L765.7,476.2L771.4,475.5L777.4,474.9L783.6,474.5L790.1,474.1L797.0,473.8L804.4,473.7L813.3,473.6L822.2,473.7L829.6,473.8L836.5,474.1L843.0,474.5L849.2,474.9L855.2,475.5L860.9,476.2L866.5,477.0L871.8,477.9L877.0,478.9L881.9,480.0L886.6,481.2L891.0,482.5L895.3,483.9L899.3,485.3L903.1,486.9L906.7,488.6L910.0,490.3L913.1,492.1L915.9,494.0L918.5,496.0L920.8,498.1L922.9,500.2L924.6,502.5L926.1,504.8L927.4,507.2L928.4,509.7L929.0,512.4L929.5,515.2Z" fill="#fbd8c2"/>
<path d="M671.9,522.4L673.6,525.9L674.7,528.7L675.4,531.4L675.8,534.1L675.9,536.8L675.8,539.5L675.4,542.2L674.7,545.0L673.8,547.8L672.6,550.7L671.1,553.5L669.4,556.4L667.5,559.4L665.3,562.4L662.9,565.4L660.2,568.4L657.4,571.5L654.2,574.5L650.8,577.6L647.2,580.7L643.4,583.9L639.3,587.0L635.0,590.2L630.4,593.3L625.6,596.6L620.5,599.8L615.0,603.1L609.1,606.5L602.6,610.2L594.1,614.7L585.6,619.2L579.0,622.6L572.8,625.5L567.0,628.2L561.5,630.6L556.1,632.9L550.9,634.9L545.9,636.7L541.0,638.3L536.2,639.8L531.6,641.0L527.2,642.1L522.9,642.9L518.7,643.6L514.7,644.2L510.9,644.5L507.2,644.6L503.7,644.6L500.3,644.4L497.1,643.9L494.1,643.3L491.3,642.5L488.6,641.5L486.1,640.4L483.8,639.0L481.6,637.4L479.6,635.5L477.8,633.4L476.0,630.9L474.1,627.6L472.4,624.1L471.3,621.3L470.6,618.6L470.2,615.9L470.1,613.2L470.2,610.5L470.6,607.8L471.3,605.0L472.2,602.2L473.4,599.3L474.9,596.5L476.6,593.6L478.5,590.6L480.7,587.6L483.1,584.6L485.8,581.6L488.6,578.5L491.8,575.5L495.2,572.4L498.8,569.3L502.6,566.1L506.7,563.0L511.0,559.8L515.6,556.7L520.4,553.4L525.5,550.2L531.0,546.9L536.9,543.5L543.4,539.8L551.9,535.3L560.4,530.8L567.0,527.4L573.2,524.5L579.0,521.8L584.5,519.4L589.9,517.1L595.1,515.1L600.1,513.3L605.0,511.7L609.8,510.2L614.4,509.0L618.8,507.9L623.1,507.1L627.3,506.4L631.3,505.8L635.1,505.5L638.8,505.4L642.3,505.4L645.7,505.6L648.9,506.1L651.9,506.7L654.7,507.5L657.4,508.5L659.9,509.6L662.2,511.0L664.4,512.6L666.4,514.5L668.2,516.6L670.0,519.1Z" fill="#fbd8c2"/>
<path d="M1238.1,612.5L1236.5,616.1L1234.9,618.8L1233.1,621.1L1231.0,623.1L1228.6,624.9L1226.0,626.4L1223.0,627.7L1219.8,628.9L1216.2,629.8L1212.4,630.5L1208.3,631.0L1203.9,631.3L1199.2,631.4L1194.3,631.3L1189.1,631.0L1183.6,630.5L1177.9,629.8L1171.9,628.9L1165.7,627.8L1159.2,626.6L1152.5,625.1L1145.5,623.4L1138.3,621.6L1130.8,619.5L1123.0,617.2L1114.9,614.7L1106.4,611.9L1097.4,608.8L1087.5,605.2L1074.9,600.6L1062.3,595.8L1052.6,592.0L1043.7,588.4L1035.5,584.9L1027.7,581.5L1020.3,578.2L1013.3,574.8L1006.6,571.5L1000.2,568.2L994.2,564.9L988.5,561.6L983.1,558.3L978.0,555.0L973.2,551.8L968.8,548.6L964.6,545.4L960.9,542.2L957.4,539.1L954.3,536.0L951.5,532.9L949.1,529.9L947.0,526.9L945.3,523.9L943.9,521.0L942.9,518.1L942.3,515.2L942.0,512.3L942.2,509.3L942.7,506.3L943.9,502.5L945.5,498.9L947.1,496.2L948.9,493.9L951.0,491.9L953.4,490.1L956.0,488.6L959.0,487.3L962.2,486.1L965.8,485.2L969.6,484.5L973.7,484.0L978.1,483.7L982.8,483.6L987.7,483.7L992.9,484.0L998.4,484.5L1004.1,485.2L1010.1,486.1L1016.3,487.2L1022.8,488.4L1029.5,489.9L1036.5,491.6L1043.7,493.4L1051.2,495.5L1059.0,497.8L1067.1,500.3L1075.6,503.1L1084.6,506.2L1094.5,509.8L1107.1,514.4L1119.7,519.2L1129.4,523.0L1138.3,526.6L1146.5,530.1L1154.3,533.5L1161.7,536.8L1168.7,540.2L1175.4,543.5L1181.8,546.8L1187.8,550.1L1193.5,553.4L1198.9,556.7L1204.0,560.0L1208.8,563.2L1213.2,566.4L1217.4,569.6L1221.1,572.8L1224.6,575.9L1227.7,579.0L1230.5,582.1L1232.9,585.1L1235.0,588.1L1236.7,591.1L1238.1,594.0L1239.1,596.9L1239.7,599.8L1240.0,602.7L1239.8,605.7L1239.3,608.7Z" fill="#fbd8c2"/>
<path d="M842.0,759.0L841.9,762.2L841.6,765.0L841.1,767.7L840.3,770.3L839.4,772.8L838.3,775.2L836.9,777.5L835.4,779.7L833.6,781.9L831.7,784.0L829.6,786.1L827.3,788.0L824.8,789.8L822.1,791.6L819.3,793.3L816.3,794.9L813.1,796.4L809.8,797.8L806.3,799.1L802.7,800.2L799.0,801.3L795.1,802.3L791.0,803.2L786.9,803.9L782.6,804.5L778.1,805.1L773.6,805.5L768.8,805.8L763.7,805.9L758.0,806.0L752.3,805.9L747.2,805.8L742.4,805.5L737.9,805.1L733.4,804.5L729.1,803.9L725.0,803.2L720.9,802.3L717.0,801.3L713.3,800.2L709.7,799.1L706.2,797.8L702.9,796.4L699.7,794.9L696.7,793.3L693.9,791.6L691.2,789.8L688.7,788.0L686.4,786.1L684.3,784.0L682.4,781.9L680.6,779.7L679.1,777.5L677.7,775.2L676.6,772.8L675.7,770.3L674.9,767.7L674.4,765.0L674.1,762.2L674.0,759.0L674.1,755.8L674.4,753.0L674.9,750.3L675.7,747.7L676.6,745.2L677.7,742.8L679.1,740.5L680.6,738.3L682.4,736.1L684.3,734.0L686.4,731.9L688.7,730.0L691.2,728.2L693.9,726.4L696.7,724.7L699.7,723.1L702.9,721.6L706.2,720.2L709.7,718.9L713.3,717.8L717.0,716.7L720.9,715.7L725.0,714.8L729.1,714.1L733.4,713.5L737.9,712.9L742.4,712.5L747.2,712.2L752.3,712.1L758.0,712.0L763.7,712.1L768.8,712.2L773.6,712.5L778.1,712.9L782.6,713.5L786.9,714.1L791.0,714.8L795.1,715.7L799.0,716.7L802.7,717.8L806.3,718.9L809.8,720.2L813.1,721.6L816.3,723.1L819.3,724.7L822.1,726.4L824.8,728.2L827.3,730.0L829.6,731.9L831.7,734.0L833.6,736.1L835.4,738.3L836.9,740.5L838.3,742.8L839.4,745.2L840.3,747.7L841.1,750.3L841.6,753.0L841.9,755.8Z" fill="#fee4c8"/>
<path d="M650.4,789.6L651.6,792.6L652.4,795.4L653.0,798.1L653.4,800.8L653.5,803.5L653.4,806.2L653.2,808.9L652.7,811.6L651.9,814.4L651.0,817.1L649.9,819.8L648.6,822.5L647.1,825.2L645.3,827.9L643.4,830.6L641.3,833.2L639.1,835.8L636.6,838.4L634.0,841.0L631.1,843.5L628.2,846.0L625.0,848.4L621.7,850.7L618.2,853.1L614.5,855.3L610.7,857.5L606.7,859.7L602.5,861.8L598.0,863.9L592.8,866.2L587.5,868.3L582.9,870.1L578.4,871.7L574.1,873.1L569.8,874.3L565.6,875.4L561.6,876.3L557.6,877.0L553.6,877.6L549.8,878.0L546.0,878.3L542.3,878.4L538.8,878.4L535.3,878.2L531.9,877.9L528.7,877.4L525.6,876.8L522.6,876.0L519.7,875.1L517.0,874.0L514.4,872.8L511.9,871.4L509.6,869.8L507.5,868.2L505.5,866.4L503.6,864.4L501.9,862.2L500.4,859.9L499.0,857.4L497.6,854.4L496.4,851.4L495.6,848.6L495.0,845.9L494.6,843.2L494.5,840.5L494.6,837.8L494.8,835.1L495.3,832.4L496.1,829.6L497.0,826.9L498.1,824.2L499.4,821.5L500.9,818.8L502.7,816.1L504.6,813.4L506.7,810.8L508.9,808.2L511.4,805.6L514.0,803.0L516.9,800.5L519.8,798.0L523.0,795.6L526.3,793.3L529.8,790.9L533.5,788.7L537.3,786.5L541.3,784.3L545.5,782.2L550.0,780.1L555.2,777.8L560.5,775.7L565.1,773.9L569.6,772.3L573.9,770.9L578.2,769.7L582.4,768.6L586.4,767.7L590.4,767.0L594.4,766.4L598.2,766.0L602.0,765.7L605.7,765.6L609.2,765.6L612.7,765.8L616.1,766.1L619.3,766.6L622.4,767.2L625.4,768.0L628.3,768.9L631.0,770.0L633.6,771.2L636.1,772.6L638.4,774.2L640.5,775.8L642.5,777.6L644.4,779.6L646.1,781.8L647.6,784.1L649.0,786.6Z" fill="#fee4c8"/>
<path d="M1030.2,772.3L1029.8,775.7L1029.2,778.7L1028.4,781.5L1027.5,784.1L1026.3,786.7L1025.0,789.1L1023.4,791.5L1021.7,793.7L1019.7,795.9L1017.6,797.9L1015.3,799.9L1012.8,801.8L1010.2,803.5L1007.4,805.2L1004.4,806.7L1001.2,808.1L998.0,809.4L994.5,810.6L991.0,811.7L987.2,812.6L983.4,813.4L979.4,814.1L975.3,814.7L971.1,815.1L966.8,815.4L962.3,815.6L957.7,815.6L952.9,815.5L947.9,815.2L942.1,814.8L936.4,814.2L931.4,813.6L926.7,812.9L922.2,812.1L917.8,811.1L913.6,810.1L909.5,808.9L905.5,807.6L901.8,806.3L898.1,804.8L894.6,803.2L891.3,801.6L888.1,799.8L885.1,797.9L882.3,796.0L879.6,794.0L877.1,791.9L874.8,789.7L872.7,787.4L870.8,785.1L869.0,782.7L867.5,780.2L866.2,777.7L865.1,775.1L864.1,772.5L863.4,769.8L862.9,767.0L862.7,764.1L862.6,761.1L862.8,757.7L863.2,754.3L863.8,751.3L864.6,748.5L865.5,745.9L866.7,743.3L868.0,740.9L869.6,738.5L871.3,736.3L873.3,734.1L875.4,732.1L877.7,730.1L880.2,728.2L882.8,726.5L885.6,724.8L888.6,723.3L891.8,721.9L895.0,720.6L898.5,719.4L902.0,718.3L905.8,717.4L909.6,716.6L913.6,715.9L917.7,715.3L921.9,714.9L926.2,714.6L930.7,714.4L935.3,714.4L940.1,714.5L945.1,714.8L950.9,715.2L956.6,715.8L961.6,716.4L966.3,717.1L970.8,717.9L975.2,718.9L979.4,719.9L983.5,721.1L987.5,722.4L991.2,723.7L994.9,725.2L998.4,726.8L1001.7,728.4L1004.9,730.2L1007.9,732.1L1010.7,734.0L1013.4,736.0L1015.9,738.1L1018.2,740.3L1020.3,742.6L1022.2,744.9L1024.0,747.3L1025.5,749.8L1026.8,752.3L1027.9,754.9L1028.9,757.5L1029.6,760.2L1030.1,763.0L1030.3,765.9L1030.4,768.9Z" fill="#fee4c8"/>
<path d="M1186.0,868.8L1184.2,871.7L1182.5,874.2L1180.7,876.4L1178.8,878.5L1176.7,880.4L1174.5,882.1L1172.2,883.6L1169.7,885.0L1167.2,886.3L1164.5,887.3L1161.7,888.2L1158.8,889.0L1155.7,889.5L1152.6,890.0L1149.4,890.2L1146.1,890.3L1142.7,890.2L1139.2,890.0L1135.6,889.6L1132.0,889.0L1128.3,888.3L1124.6,887.4L1120.8,886.3L1116.9,885.1L1113.0,883.7L1109.0,882.2L1105.0,880.4L1100.9,878.5L1096.6,876.3L1091.8,873.7L1087.0,871.0L1082.9,868.5L1079.1,866.1L1075.5,863.6L1072.0,861.0L1068.8,858.4L1065.7,855.8L1062.8,853.2L1060.0,850.5L1057.5,847.7L1055.1,844.9L1052.8,842.1L1050.8,839.3L1048.9,836.5L1047.3,833.6L1045.8,830.7L1044.5,827.9L1043.3,825.0L1042.4,822.1L1041.7,819.3L1041.2,816.4L1040.9,813.6L1040.7,810.8L1040.8,808.0L1041.1,805.2L1041.6,802.5L1042.3,799.7L1043.3,797.0L1044.5,794.3L1046.0,791.2L1047.8,788.3L1049.5,785.8L1051.3,783.6L1053.2,781.5L1055.3,779.6L1057.5,777.9L1059.8,776.4L1062.3,775.0L1064.8,773.7L1067.5,772.7L1070.3,771.8L1073.2,771.0L1076.3,770.5L1079.4,770.0L1082.6,769.8L1085.9,769.7L1089.3,769.8L1092.8,770.0L1096.4,770.4L1100.0,771.0L1103.7,771.7L1107.4,772.6L1111.2,773.7L1115.1,774.9L1119.0,776.3L1123.0,777.8L1127.0,779.6L1131.1,781.5L1135.4,783.7L1140.2,786.3L1145.0,789.0L1149.1,791.5L1152.9,793.9L1156.5,796.4L1160.0,799.0L1163.2,801.6L1166.3,804.2L1169.2,806.8L1172.0,809.5L1174.5,812.3L1176.9,815.1L1179.2,817.9L1181.2,820.7L1183.1,823.5L1184.7,826.4L1186.2,829.3L1187.5,832.1L1188.7,835.0L1189.6,837.9L1190.3,840.7L1190.8,843.6L1191.1,846.4L1191.3,849.2L1191.2,852.0L1190.9,854.8L1190.4,857.5L1189.7,860.3L1188.7,863.0L1187.5,865.7Z" fill="#fee4c8"/>
<path d="M937.5,1011.6L937.4,1015.4L937.1,1018.4L936.5,1021.1L935.7,1023.6L934.7,1026.0L933.5,1028.3L932.0,1030.5L930.4,1032.6L928.5,1034.6L926.4,1036.5L924.1,1038.4L921.6,1040.1L918.9,1041.8L916.0,1043.4L912.9,1044.9L909.6,1046.3L906.1,1047.6L902.4,1048.8L898.6,1049.9L894.5,1051.0L890.2,1051.9L885.8,1052.8L881.2,1053.5L876.3,1054.2L871.3,1054.7L866.0,1055.2L860.4,1055.5L854.4,1055.8L847.9,1055.9L839.5,1056.0L831.1,1055.9L824.6,1055.8L818.6,1055.5L813.0,1055.2L807.7,1054.7L802.7,1054.2L797.8,1053.5L793.2,1052.8L788.8,1051.9L784.5,1051.0L780.4,1049.9L776.6,1048.8L772.9,1047.6L769.4,1046.3L766.1,1044.9L763.0,1043.4L760.1,1041.8L757.4,1040.1L754.9,1038.4L752.6,1036.5L750.5,1034.6L748.6,1032.6L747.0,1030.5L745.5,1028.3L744.3,1026.0L743.3,1023.6L742.5,1021.1L741.9,1018.4L741.6,1015.4L741.5,1011.6L741.6,1007.8L741.9,1004.8L742.5,1002.1L743.3,999.6L744.3,997.2L745.5,994.9L747.0,992.7L748.6,990.6L750.5,988.6L752.6,986.7L754.9,984.8L757.4,983.1L760.1,981.4L763.0,979.8L766.1,978.3L769.4,976.9L772.9,975.6L776.6,974.4L780.4,973.3L784.5,972.2L788.8,971.3L793.2,970.4L797.8,969.7L802.7,969.0L807.7,968.5L813.0,968.0L818.6,967.7L824.6,967.4L831.1,967.3L839.5,967.2L847.9,967.3L854.4,967.4L860.4,967.7L866.0,968.0L871.3,968.5L876.3,969.0L881.2,969.7L885.8,970.4L890.2,971.3L894.5,972.2L898.6,973.3L902.4,974.4L906.1,975.6L909.6,976.9L912.9,978.3L916.0,979.8L918.9,981.4L921.6,983.1L924.1,984.8L926.4,986.7L928.5,988.6L930.4,990.6L932.0,992.7L933.5,994.9L934.7,997.2L935.7,999.6L936.5,1002.1L937.1,1004.8L937.4,1007.8Z" fill="#ecf0d3"/>
<path d="M727.5,1003.4L729.1,1006.7L730.0,1009.3L730.7,1011.8L731.1,1014.3L731.3,1016.8L731.2,1019.3L730.9,1021.8L730.3,1024.3L729.6,1026.8L728.6,1029.3L727.4,1031.9L725.9,1034.5L724.3,1037.1L722.4,1039.7L720.4,1042.4L718.1,1045.0L715.6,1047.7L712.9,1050.4L710.0,1053.1L706.9,1055.7L703.6,1058.4L700.1,1061.1L696.4,1063.8L692.4,1066.5L688.3,1069.2L683.8,1072.0L679.1,1074.7L674.0,1077.6L668.4,1080.7L661.1,1084.4L653.7,1088.1L648.0,1090.9L642.6,1093.3L637.6,1095.5L632.8,1097.5L628.1,1099.3L623.6,1100.9L619.3,1102.3L615.0,1103.6L610.9,1104.7L606.9,1105.6L603.0,1106.4L599.3,1107.0L595.7,1107.4L592.2,1107.7L588.9,1107.8L585.6,1107.8L582.6,1107.6L579.6,1107.2L576.8,1106.7L574.2,1106.0L571.7,1105.1L569.3,1104.1L567.1,1102.9L565.1,1101.5L563.2,1099.9L561.4,1098.1L559.8,1096.1L558.2,1093.7L556.5,1090.6L554.9,1087.3L554.0,1084.7L553.3,1082.2L552.9,1079.7L552.7,1077.2L552.8,1074.7L553.1,1072.2L553.7,1069.7L554.4,1067.2L555.4,1064.7L556.6,1062.1L558.1,1059.5L559.7,1056.9L561.6,1054.3L563.6,1051.6L565.9,1049.0L568.4,1046.3L571.1,1043.6L574.0,1040.9L577.1,1038.3L580.4,1035.6L583.9,1032.9L587.6,1030.2L591.6,1027.5L595.7,1024.8L600.2,1022.0L604.9,1019.3L610.0,1016.4L615.6,1013.3L622.9,1009.6L630.3,1005.9L636.0,1003.1L641.4,1000.7L646.4,998.5L651.2,996.5L655.9,994.7L660.4,993.1L664.7,991.7L669.0,990.4L673.1,989.3L677.1,988.4L681.0,987.6L684.7,987.0L688.3,986.6L691.8,986.3L695.1,986.2L698.4,986.2L701.4,986.4L704.4,986.8L707.2,987.3L709.8,988.0L712.3,988.9L714.7,989.9L716.9,991.1L718.9,992.5L720.8,994.1L722.6,995.9L724.2,997.9L725.8,1000.3Z" fill="#ecf0d3"/>
<path d="M1118.9,1107.3L1116.9,1110.6L1115.0,1113.3L1113.1,1115.6L1111.0,1117.6L1108.8,1119.5L1106.4,1121.1L1103.9,1122.6L1101.3,1123.9L1098.4,1124.9L1095.5,1125.8L1092.4,1126.5L1089.1,1127.1L1085.8,1127.4L1082.2,1127.6L1078.6,1127.6L1074.9,1127.3L1071.0,1127.0L1067.0,1126.4L1062.9,1125.6L1058.7,1124.7L1054.4,1123.6L1050.0,1122.3L1045.5,1120.8L1040.9,1119.2L1036.2,1117.3L1031.4,1115.2L1026.4,1113.0L1021.2,1110.4L1015.7,1107.6L1009.1,1104.0L1002.6,1100.3L997.3,1097.1L992.4,1094.1L987.8,1091.1L983.5,1088.1L979.4,1085.1L975.6,1082.1L971.9,1079.0L968.5,1076.0L965.3,1072.9L962.2,1069.9L959.4,1066.8L956.8,1063.7L954.5,1060.6L952.3,1057.5L950.4,1054.5L948.6,1051.4L947.1,1048.4L945.9,1045.3L944.8,1042.3L944.0,1039.3L943.4,1036.4L943.1,1033.5L943.0,1030.5L943.1,1027.7L943.5,1024.8L944.2,1022.0L945.1,1019.1L946.4,1016.1L948.1,1012.7L950.1,1009.4L952.0,1006.7L953.9,1004.4L956.0,1002.4L958.2,1000.5L960.6,998.9L963.1,997.4L965.7,996.1L968.6,995.1L971.5,994.2L974.6,993.5L977.9,992.9L981.2,992.6L984.8,992.4L988.4,992.4L992.1,992.7L996.0,993.0L1000.0,993.6L1004.1,994.4L1008.3,995.3L1012.6,996.4L1017.0,997.7L1021.5,999.2L1026.1,1000.8L1030.8,1002.7L1035.6,1004.8L1040.6,1007.0L1045.8,1009.6L1051.3,1012.4L1057.9,1016.0L1064.4,1019.7L1069.7,1022.9L1074.6,1025.9L1079.2,1028.9L1083.5,1031.9L1087.6,1034.9L1091.4,1037.9L1095.1,1041.0L1098.5,1044.0L1101.7,1047.1L1104.8,1050.1L1107.6,1053.2L1110.2,1056.3L1112.5,1059.4L1114.7,1062.5L1116.6,1065.5L1118.4,1068.6L1119.9,1071.6L1121.1,1074.7L1122.2,1077.7L1123.0,1080.7L1123.6,1083.6L1123.9,1086.5L1124.0,1089.5L1123.9,1092.3L1123.5,1095.2L1122.8,1098.0L1121.9,1100.9L1120.6,1103.9Z" fill="#ecf0d3"/>
<text x="0" y="0" transform="translate(813.5 444) rotate(0)" font-size="67" fill="#fff" font-weight="bold" text-anchor="middle" textLength="338" lengthAdjust="spacingAndGlyphs">Social skill</text>
<text x="0" y="0" transform="translate(848.5 691.5) rotate(0)" font-size="67" fill="#fff" font-weight="bold" text-anchor="middle" textLength="440" lengthAdjust="spacingAndGlyphs">Cognitive skill</text>
<text x="0" y="0" transform="translate(856 931) rotate(0)" font-size="67" fill="#fff" font-weight="bold" text-anchor="middle" textLength="453" lengthAdjust="spacingAndGlyphs">Physical sense</text>
<text x="0" y="0" transform="translate(667.3 1192.6) rotate(0)" font-size="59" fill="#444" font-weight="bold" text-anchor="start" textLength="322.7" lengthAdjust="spacingAndGlyphs">Five senses</text>
<text x="0" y="0" transform="translate(668 1242.8) rotate(0)" font-size="59" fill="#444" font-weight="bold" text-anchor="start" textLength="300.8" lengthAdjust="spacingAndGlyphs">of exercise</text>
<text x="0" y="0" transform="translate(813.5 531) rotate(0)" font-size="32" fill="#e65a2d" font-weight="normal" text-anchor="middle" textLength="168" lengthAdjust="spacingAndGlyphs">Cooperation</text>
<text x="0" y="0" transform="translate(573 583) rotate(-25)" font-size="28" fill="#e65a2d" font-weight="normal" text-anchor="middle" textLength="190" lengthAdjust="spacingAndGlyphs">Self-restraint</text>
<text x="0" y="0" transform="translate(1104 555) rotate(25)" font-size="24" fill="#e65a2d" font-weight="normal" text-anchor="middle" textLength="262" lengthAdjust="spacingAndGlyphs">Imagination · Creativity</text>
<text x="0" y="0" transform="translate(1090 579) rotate(25)" font-size="24" fill="#e65a2d" font-weight="normal" text-anchor="middle" textLength="104" lengthAdjust="spacingAndGlyphs">Autonomy</text>
<text x="0" y="0" transform="translate(757.8 762.6) rotate(0)" font-size="33" fill="#f59c34" font-weight="normal" text-anchor="middle" textLength="106" lengthAdjust="spacingAndGlyphs">Divided</text>
<text x="0" y="0" transform="translate(757.8 782.6) rotate(0)" font-size="20" fill="#f59c34" font-weight="normal" text-anchor="middle" textLength="106" lengthAdjust="spacingAndGlyphs">attention</text>
<text x="0" y="0" transform="translate(949.5 767.4) rotate(0)" font-size="34" fill="#f59c34" font-weight="normal" text-anchor="middle" textLength="161" lengthAdjust="spacingAndGlyphs">Alternative</text>
<text x="0" y="0" transform="translate(948 790.6) rotate(0)" font-size="20" fill="#f59c34" font-weight="normal" text-anchor="middle" textLength="102" lengthAdjust="spacingAndGlyphs">attention</text>
<text x="0" y="0" transform="translate(574.5 823.8) rotate(-28)" font-size="27" fill="#f59c34" font-weight="normal" text-anchor="middle" textLength="135" lengthAdjust="spacingAndGlyphs">Sustained</text>
<text x="0" y="0" transform="translate(583.4 844) rotate(-28)" font-size="19" fill="#f59c34" font-weight="normal" text-anchor="middle" textLength="100" lengthAdjust="spacingAndGlyphs">attention</text>
<text x="0" y="0" transform="translate(1119 828) rotate(39)" font-size="27" fill="#f59c34" font-weight="normal" text-anchor="middle" textLength="120" lengthAdjust="spacingAndGlyphs">Selective</text>
<text x="0" y="0" transform="translate(1106 849) rotate(37)" font-size="19" fill="#f59c34" font-weight="normal" text-anchor="middle" textLength="98" lengthAdjust="spacingAndGlyphs">attention</text>
<text x="0" y="0" transform="translate(842.3 1026.7) rotate(0)" font-size="33" fill="#b7c94a" font-weight="normal" text-anchor="middle" textLength="188" lengthAdjust="spacingAndGlyphs">Balance sense</text>
<text x="0" y="0" transform="translate(642 1042.3) rotate(-24)" font-size="28" fill="#b7c94a" font-weight="normal" text-anchor="middle" textLength="117" lengthAdjust="spacingAndGlyphs">Postural</text>
<text x="0" y="0" transform="translate(647.2 1067.6) rotate(-24)" font-size="28" fill="#b7c94a" font-weight="normal" text-anchor="middle" textLength="95" lengthAdjust="spacingAndGlyphs">control</text>
<text x="0" y="0" transform="translate(1033.6 1061.8) rotate(32)" font-size="28" fill="#b7c94a" font-weight="normal" text-anchor="middle" textLength="157" lengthAdjust="spacingAndGlyphs">Body image</text>
<text x="0" y="0" transform="translate(819.2 1307) rotate(0)" font-size="33" fill="#e6e6e6" font-weight="normal" text-anchor="middle" textLength="88" lengthAdjust="spacingAndGlyphs">Touch</text>
<text x="0" y="0" transform="translate(723.8 1389.8) rotate(0)" font-size="33" fill="#e6e6e6" font-weight="normal" text-anchor="middle" textLength="159" lengthAdjust="spacingAndGlyphs">Vestibular</text>
<text x="0" y="0" transform="translate(930.5 1391.3) rotate(0)" font-size="31" fill="#e6e6e6" font-weight="normal" text-anchor="middle" textLength="194" lengthAdjust="spacingAndGlyphs">Muscle sense</text>
<text x="0" y="0" transform="translate(555 1259.5) rotate(-33)" font-size="27" fill="#e6e6e6" font-weight="normal" text-anchor="middle" textLength="120" lengthAdjust="spacingAndGlyphs">Hearing</text>
<text x="0" y="0" transform="translate(1121.5 1259.6) rotate(30)" font-size="27" fill="#e6e6e6" font-weight="normal" text-anchor="middle" textLength="76" lengthAdjust="spacingAndGlyphs">Sight</text></svg></body></html>
